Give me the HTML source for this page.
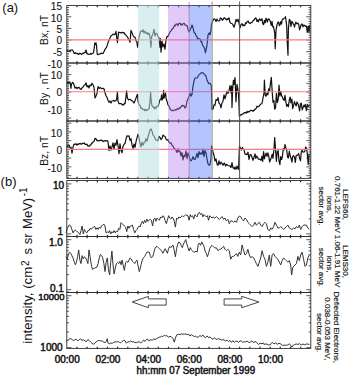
<!DOCTYPE html>
<html><head><meta charset="utf-8"><style>
html,body{margin:0;padding:0;background:#fff;width:350px;height:376px;overflow:hidden}
svg{display:block}
text{font-family:"Liberation Sans",sans-serif;fill:#111}
</style></head><body>
<svg width="350" height="376" viewBox="0 0 350 376" xmlns="http://www.w3.org/2000/svg">
<rect width="350" height="376" fill="#fff"/>
<polyline points="67.0,51.0 67.7,50.6 68.3,51.4 69.0,51.3 69.6,50.5 70.2,50.4 70.8,50.1 71.4,50.0 72.0,49.9 72.7,50.2 73.3,51.2 74.0,53.4 74.6,53.1 75.2,53.5 75.8,52.7 76.4,53.5 77.0,53.8 77.7,53.4 78.3,54.3 79.0,54.3 79.7,53.2 80.3,53.3 81.0,54.0 81.7,54.4 82.3,53.6 83.0,53.2 83.7,53.3 84.3,52.5 85.0,52.7 86.0,50.0 87.0,54.0 87.7,53.9 88.3,54.1 89.0,54.3 89.6,54.4 90.3,54.0 90.9,53.3 91.6,54.1 92.2,53.5 92.9,53.3 93.5,52.7 94.3,47.7 94.8,42.9 95.5,44.5 96.0,42.9 96.6,46.2 97.2,54.2 98.1,54.6 99.0,54.0 99.7,54.2 100.3,53.7 101.0,53.2 101.7,53.3 102.3,53.6 103.0,53.4 103.7,52.0 104.3,51.1 105.0,49.4 105.7,48.4 106.3,47.7 107.0,46.0 107.7,43.6 108.3,42.0 109.0,40.2 109.7,38.8 110.3,37.2 111.0,36.0 111.7,35.3 112.3,35.0 113.0,34.0 113.7,34.3 114.3,34.7 115.0,34.4 116.0,31.4 116.7,37.2 117.4,42.7 118.6,32.1 119.3,32.4 120.0,32.6 120.7,32.7 121.3,33.0 122.0,32.3 122.7,32.3 123.3,33.1 124.0,32.7 124.7,33.7 125.3,34.9 126.0,35.0 126.7,36.0 127.3,36.8 128.0,38.0 128.7,39.9 129.3,40.0 130.0,42.3 131.0,30.4 131.7,32.1 132.3,33.6 133.0,35.3 134.0,37.0 135.0,37.1 136.0,40.9 136.8,42.0 137.6,47.1 138.3,42.1 139.0,37.2 140.0,33.0 141.0,31.0 142.0,31.7 143.0,29.7 144.0,33.0 145.0,31.2 146.0,33.2 146.7,33.6 147.3,32.7 148.0,34.3 149.0,33.1 150.0,37.1 151.0,47.1 151.6,36.8 152.3,35.3 153.0,33.9 154.0,29.4 155.0,36.0 156.0,33.4 157.0,33.6 158.0,36.3 159.0,38.3 160.0,47.4 160.4,38.6 161.0,52.2 162.0,41.1 163.0,46.8 164.0,44.0 165.0,49.3 166.0,40.0 167.0,36.4 168.0,36.6 169.0,34.3 170.0,32.0 170.7,31.1 171.3,30.7 172.0,28.9 172.7,28.9 173.3,27.9 174.0,26.4 174.7,25.2 175.3,25.9 176.0,24.0 176.7,23.8 177.3,24.8 178.0,25.6 178.7,23.5 179.3,23.2 180.0,23.3 180.7,24.7 181.3,24.0 182.0,25.3 183.0,23.7 183.7,23.6 184.3,23.3 185.0,25.1 185.7,25.2 186.3,25.3 187.0,25.5 188.0,29.2 189.0,31.9 190.0,30.1 190.7,28.4 191.3,27.5 192.0,25.0 193.0,27.7 194.0,32.1 194.7,33.1 195.3,33.4 196.0,35.7 197.0,36.7 197.7,38.7 198.3,38.7 199.0,38.9 199.7,39.2 200.3,39.2 201.0,41.8 201.7,41.3 202.3,44.3 203.0,46.1 204.0,47.1 204.7,48.9 205.4,52.8 206.0,50.1 207.0,45.3 208.0,35.0 209.0,32.9 210.0,34.8 211.0,30.5 211.4,25.2 212.0,22.9 213.0,20.3 214.0,18.9 215.0,19.3 216.0,21.6 217.0,19.0 218.0,20.7 219.0,21.0 219.7,20.7 220.3,17.9 221.0,18.3 221.7,18.7 222.3,20.4 223.0,19.6 223.7,18.4 224.3,17.7 225.0,18.3 225.7,19.2 226.3,19.9 227.0,18.7 227.7,19.7 228.3,18.7 229.0,18.0 230.0,22.4 231.0,23.4 232.0,23.5 233.0,24.9 234.0,27.2 235.0,24.1 236.0,19.3 237.0,21.6 238.0,19.1 239.0,22.8 240.0,27.8 241.0,24.7 242.0,23.6 243.0,25.9 243.7,24.8 244.3,25.6 245.0,25.0 245.7,22.7 246.3,23.4 247.0,21.9 247.7,21.3 248.3,21.2 249.0,22.9 249.7,23.0 250.3,23.5 251.0,22.7 251.7,22.5 252.3,22.3 253.0,20.8 254.0,20.1 255.0,18.6 255.7,17.8 256.4,19.0 257.0,21.5 257.7,20.0 258.4,21.9 259.0,19.7 259.7,18.8 260.4,20.3 261.0,20.3 261.9,18.7 262.7,23.5 263.6,24.6 264.4,20.4 265.2,22.8 266.0,18.3 266.7,19.2 267.3,22.2 268.0,19.4 268.8,18.8 269.6,20.0 270.5,22.1 271.3,25.5 272.0,21.3 272.8,26.8 273.5,26.7 274.7,32.9 275.2,48.8 276.0,30.1 277.0,24.8 278.0,22.0 278.7,22.0 279.3,25.7 280.0,24.9 280.7,21.7 281.5,24.1 282.4,19.0 283.2,19.2 284.0,18.3 284.8,18.0 285.5,16.7 286.7,25.8 287.2,41.2 288.0,55.2 288.4,29.1 289.3,19.4 290.0,19.9 291.0,26.3 291.9,21.4 292.7,22.6 293.3,24.1 293.9,24.5 294.5,27.1 295.1,24.4 295.8,22.1 297.0,23.8 297.9,23.1 298.7,24.3 299.6,29.9 300.5,26.8 301.2,24.6 302.0,24.0 303.0,26.8 303.9,25.0 304.8,25.8 305.6,26.5 306.5,26.1 307.3,32.4 308.2,26.4 309.0,32.5 309.5,25.1" fill="none" stroke="#111" stroke-width="1.2" stroke-linejoin="round" />
<polyline points="67.0,82.0 68.0,83.8 69.0,82.2 70.0,82.2 71.0,88.3 71.4,84.5 72.6,82.3 73.4,83.2 74.0,84.8 75.0,88.1 76.0,87.1 77.0,88.7 77.7,87.7 78.3,87.8 79.0,87.3 79.7,88.1 80.3,89.1 81.0,89.4 81.7,88.2 82.3,87.8 83.0,87.1 83.7,85.8 84.3,85.0 85.0,85.0 86.0,82.8 87.0,86.9 88.0,85.6 89.0,88.0 90.0,85.0 91.0,85.7 92.0,83.2 93.0,84.8 94.0,87.4 95.0,98.0 96.0,95.9 97.0,93.2 98.0,86.5 99.0,88.6 100.0,87.4 101.0,88.3 101.7,88.7 102.3,88.3 103.0,88.4 104.0,88.9 105.0,92.8 106.0,95.8 107.0,97.5 108.0,100.3 109.0,102.3 110.0,101.0 111.0,103.0 112.0,101.0 113.0,100.7 113.7,100.3 114.3,101.2 115.0,100.9 115.8,100.6 116.6,99.6 117.4,92.0 118.0,101.0 119.0,103.7 119.7,103.6 120.3,103.7 121.0,103.6 121.7,104.1 122.3,104.9 123.0,104.5 123.7,105.0 124.3,103.4 125.0,103.7 126.0,96.8 126.6,90.8 127.4,98.2 128.6,100.0 129.3,99.5 130.0,99.2 131.0,100.1 132.0,100.8 133.0,101.6 134.0,103.0 135.0,100.8 136.0,98.1 137.0,95.2 137.6,94.5 138.0,101.3 139.0,104.7 140.0,105.5 141.0,108.3 142.0,108.2 142.7,109.5 143.3,109.4 144.0,109.6 144.7,110.7 145.3,109.3 146.0,110.0 146.7,110.6 147.3,109.6 148.0,109.6 149.0,108.7 150.0,101.9 150.6,92.3 151.2,101.1 152.0,105.9 152.7,106.1 153.3,107.5 154.0,107.2 154.7,108.9 155.3,107.1 156.0,108.3 156.7,106.4 157.3,106.3 158.0,106.5 159.0,103.4 160.0,99.5 161.0,99.2 161.6,94.9 162.0,100.1 163.0,98.0 163.6,90.4 164.0,98.1 165.0,94.8 165.6,93.1 166.0,98.3 167.0,101.3 168.0,104.8 169.0,106.1 170.0,109.0 170.7,109.7 171.3,110.0 172.0,110.7 172.7,110.4 173.3,110.6 174.0,110.3 174.7,110.0 175.3,109.6 176.0,110.2 176.7,109.4 177.3,108.6 178.0,109.0 178.7,109.3 179.3,107.7 180.0,108.1 180.7,107.2 181.3,106.7 182.0,105.4 183.0,105.9 184.0,105.7 185.0,108.1 186.0,106.9 187.0,101.1 188.0,99.0 189.0,96.4 190.0,93.2 191.0,96.1 192.0,94.4 193.0,86.3 194.0,81.1 195.0,78.0 196.0,78.0 197.0,77.8 197.7,77.3 198.3,75.3 199.0,75.0 199.7,74.0 200.3,73.7 201.0,73.1 202.0,72.5 202.7,72.9 203.3,73.0 204.0,73.9 204.7,75.0 205.3,75.0 206.0,76.1 207.0,79.9 208.0,82.3 208.7,83.6 209.3,83.3 210.0,83.3 211.0,84.5 211.4,86.6 212.0,109.5 213.0,109.0 214.0,104.9 215.0,105.2 216.0,99.5 217.0,100.4 218.0,97.6 219.0,103.2 220.0,104.1 221.0,107.8 222.0,103.0 223.0,101.2 224.0,94.9 225.0,98.8 226.0,95.0 227.0,91.2 228.0,93.4 229.0,90.7 230.0,85.5 231.0,93.0 231.6,85.8 232.0,107.4 232.6,90.0 233.4,80.4 234.0,84.5 235.0,77.6 236.0,101.8 237.0,84.4 238.0,90.1 238.6,95.0 239.4,116.7 240.2,114.6 241.0,115.0 241.7,114.6 242.3,114.3 243.0,113.6 243.7,113.7 244.3,112.6 245.0,112.7 245.7,112.6 246.3,113.1 247.0,111.3 247.7,112.3 248.3,111.6 249.0,112.0 249.7,111.2 250.3,110.6 251.0,110.3 251.7,110.6 252.3,110.7 253.0,111.4 253.7,110.3 254.3,110.5 255.0,109.1 255.7,109.1 256.3,107.9 257.0,106.2 257.7,106.8 258.3,106.7 259.0,106.3 259.7,105.3 260.3,104.5 261.0,104.0 262.0,103.5 263.0,98.0 264.0,93.0 264.4,80.0 265.3,95.8 266.1,96.2 267.0,93.0 267.9,94.8 268.7,88.8 269.6,90.7 270.4,83.6 271.3,77.3 272.2,91.8 273.0,102.3 273.9,100.5 274.7,109.2 275.6,107.6 276.4,93.3 277.3,102.5 278.2,99.6 279.0,85.1 279.9,96.2 280.7,91.4 281.6,95.6 282.4,97.0 283.3,99.5 284.2,100.4 285.0,95.3 285.9,102.2 286.7,106.3 287.6,104.6 288.4,106.7 289.3,99.9 290.2,97.0 291.0,102.8 291.9,99.1 292.7,108.7 293.6,105.2 294.5,101.7 295.4,104.5 296.2,105.9 297.0,101.9 297.9,103.8 298.7,105.9 299.6,110.8 300.5,103.7 301.3,103.2 302.2,109.9 303.0,107.8 303.9,105.2 304.7,106.6 305.3,104.4 305.9,108.2 306.5,110.6 307.3,104.4 308.2,106.7 308.9,105.8 309.5,104.7" fill="none" stroke="#111" stroke-width="1.2" stroke-linejoin="round" />
<polyline points="67.0,147.0 68.0,145.7 69.0,145.0 70.0,147.9 71.0,147.1 72.0,153.1 73.0,147.3 74.0,144.1 75.0,144.5 75.7,143.8 76.3,143.9 77.0,145.3 77.7,144.1 78.3,144.4 79.0,143.6 79.7,143.9 80.3,143.3 81.0,144.1 81.7,144.2 82.3,143.3 83.0,143.3 83.7,143.5 84.3,142.9 85.0,144.3 85.7,144.4 86.3,144.4 87.0,144.2 87.7,145.9 88.3,145.7 89.0,146.3 89.7,145.9 90.3,144.9 91.0,144.7 91.7,143.2 92.3,143.1 93.0,142.0 93.7,141.7 94.3,140.6 95.0,138.3 95.7,138.8 96.3,139.3 97.0,140.8 97.7,140.3 98.3,140.8 99.0,140.8 99.7,140.7 100.3,140.2 101.0,139.9 101.7,140.4 102.3,140.7 103.0,141.7 103.7,140.9 104.3,141.0 105.0,140.5 105.7,141.2 106.3,140.8 107.0,140.5 108.0,141.7 109.0,150.5 110.0,146.0 111.0,150.1 112.0,146.8 113.0,142.8 114.0,149.5 115.0,143.2 116.0,145.2 117.0,139.7 118.0,145.7 119.0,153.7 120.0,143.9 121.0,150.3 122.0,152.8 123.0,146.4 124.0,144.3 125.0,143.6 126.0,138.9 127.0,135.8 128.0,136.2 129.0,135.8 130.0,140.4 131.0,138.7 132.0,144.9 133.0,148.3 134.0,144.0 135.0,147.4 136.0,141.7 137.0,137.9 138.0,134.1 139.0,137.7 140.0,143.3 141.0,146.9 142.0,142.1 143.0,145.2 144.0,142.8 145.0,141.9 146.0,138.7 147.0,141.2 148.0,137.0 149.0,133.8 150.0,130.0 151.0,129.0 152.0,131.2 153.0,135.1 154.0,136.1 155.0,138.2 156.0,140.2 157.0,140.0 158.0,140.9 159.0,136.4 160.0,137.5 161.0,139.6 162.0,138.3 163.0,135.0 164.0,136.0 165.0,136.6 166.0,138.9 167.0,140.1 168.0,139.7 169.0,142.2 170.0,143.2 171.0,142.8 172.0,145.2 173.0,146.0 174.0,148.3 175.0,148.8 176.0,150.4 177.0,152.5 178.0,148.7 179.0,151.8 180.0,151.3 181.0,156.2 182.0,152.5 183.0,160.0 184.0,155.1 185.0,156.7 186.0,150.8 187.0,158.7 188.0,152.8 189.0,156.1 190.0,159.6 191.0,160.8 192.0,159.6 193.0,156.7 194.0,159.1 195.0,159.5 196.0,156.7 197.0,153.4 198.0,157.7 199.0,151.5 200.0,154.3 201.0,152.9 202.0,154.3 203.0,149.0 204.0,156.7 205.0,150.7 206.0,152.8 207.0,158.9 208.0,163.8 209.0,165.2 210.0,164.7 211.0,159.2 211.6,145.9 212.4,149.9 213.0,152.0 214.0,155.4 215.0,161.0 216.0,158.8 217.0,164.2 218.0,165.3 219.0,160.8 220.0,164.3 221.0,162.2 222.0,163.4 223.0,165.2 223.7,163.9 224.3,163.1 225.0,164.4 225.7,166.1 226.3,164.3 227.0,164.6 227.7,165.2 228.3,165.5 229.0,165.8 230.0,165.9 231.0,167.6 232.0,162.6 233.0,168.0 233.7,167.9 234.3,169.0 235.0,166.9 235.7,169.1 236.3,168.9 237.0,166.0 237.8,168.3 238.6,169.3 239.4,146.4 240.6,148.0 241.4,150.1 242.4,147.4 243.0,148.7 244.0,149.4 245.0,154.2 246.0,154.1 247.0,154.6 248.0,152.2 249.0,159.3 250.0,154.8 251.0,154.5 252.0,157.3 253.0,160.3 254.0,157.2 255.0,153.8 255.8,158.4 256.7,156.0 257.5,157.3 258.4,159.2 259.2,159.1 260.1,159.3 261.0,160.3 261.9,156.3 262.7,161.4 263.6,151.5 264.4,158.9 265.3,155.2 266.1,153.1 267.0,156.4 267.9,152.8 268.7,156.1 269.6,161.9 270.4,160.3 271.3,157.4 272.2,154.2 273.0,158.4 273.9,150.0 274.7,137.5 275.6,150.4 276.4,161.5 277.3,151.6 278.2,150.7 279.0,161.0 279.9,164.6 280.7,156.7 281.6,159.5 282.4,156.5 283.3,148.5 284.2,149.9 285.0,144.5 285.9,147.9 286.7,150.0 287.6,157.3 288.4,157.9 289.3,151.0 290.2,156.0 291.0,157.9 291.9,162.2 292.7,156.4 293.6,155.7 294.5,157.1 295.3,162.4 296.2,155.3 297.0,155.4 297.9,154.8 298.7,153.5 299.6,158.6 300.5,160.8 301.3,151.8 302.2,150.1 303.0,152.2 303.9,152.0 304.7,151.4 305.6,147.0 306.5,148.1 307.3,153.8 308.2,164.4 309.0,153.9" fill="none" stroke="#111" stroke-width="1.2" stroke-linejoin="round" />
<line x1="66.80" y1="60.88" x2="69.00" y2="60.88" stroke="#2c2c2c" stroke-width="0.8" />
<line x1="310.80" y1="60.88" x2="308.60" y2="60.88" stroke="#2c2c2c" stroke-width="0.8" />
<line x1="66.80" y1="58.56" x2="69.00" y2="58.56" stroke="#2c2c2c" stroke-width="0.8" />
<line x1="310.80" y1="58.56" x2="308.60" y2="58.56" stroke="#2c2c2c" stroke-width="0.8" />
<line x1="66.80" y1="56.24" x2="69.00" y2="56.24" stroke="#2c2c2c" stroke-width="0.8" />
<line x1="310.80" y1="56.24" x2="308.60" y2="56.24" stroke="#2c2c2c" stroke-width="0.8" />
<line x1="66.80" y1="53.92" x2="69.00" y2="53.92" stroke="#2c2c2c" stroke-width="0.8" />
<line x1="310.80" y1="53.92" x2="308.60" y2="53.92" stroke="#2c2c2c" stroke-width="0.8" />
<line x1="66.80" y1="51.60" x2="71.30" y2="51.60" stroke="#2c2c2c" stroke-width="0.8" />
<line x1="310.80" y1="51.60" x2="306.30" y2="51.60" stroke="#2c2c2c" stroke-width="0.8" />
<line x1="66.80" y1="49.28" x2="69.00" y2="49.28" stroke="#2c2c2c" stroke-width="0.8" />
<line x1="310.80" y1="49.28" x2="308.60" y2="49.28" stroke="#2c2c2c" stroke-width="0.8" />
<line x1="66.80" y1="46.96" x2="69.00" y2="46.96" stroke="#2c2c2c" stroke-width="0.8" />
<line x1="310.80" y1="46.96" x2="308.60" y2="46.96" stroke="#2c2c2c" stroke-width="0.8" />
<line x1="66.80" y1="44.64" x2="69.00" y2="44.64" stroke="#2c2c2c" stroke-width="0.8" />
<line x1="310.80" y1="44.64" x2="308.60" y2="44.64" stroke="#2c2c2c" stroke-width="0.8" />
<line x1="66.80" y1="42.32" x2="69.00" y2="42.32" stroke="#2c2c2c" stroke-width="0.8" />
<line x1="310.80" y1="42.32" x2="308.60" y2="42.32" stroke="#2c2c2c" stroke-width="0.8" />
<line x1="66.80" y1="40.00" x2="71.30" y2="40.00" stroke="#2c2c2c" stroke-width="0.8" />
<line x1="310.80" y1="40.00" x2="306.30" y2="40.00" stroke="#2c2c2c" stroke-width="0.8" />
<line x1="66.80" y1="37.68" x2="69.00" y2="37.68" stroke="#2c2c2c" stroke-width="0.8" />
<line x1="310.80" y1="37.68" x2="308.60" y2="37.68" stroke="#2c2c2c" stroke-width="0.8" />
<line x1="66.80" y1="35.36" x2="69.00" y2="35.36" stroke="#2c2c2c" stroke-width="0.8" />
<line x1="310.80" y1="35.36" x2="308.60" y2="35.36" stroke="#2c2c2c" stroke-width="0.8" />
<line x1="66.80" y1="33.04" x2="69.00" y2="33.04" stroke="#2c2c2c" stroke-width="0.8" />
<line x1="310.80" y1="33.04" x2="308.60" y2="33.04" stroke="#2c2c2c" stroke-width="0.8" />
<line x1="66.80" y1="30.72" x2="69.00" y2="30.72" stroke="#2c2c2c" stroke-width="0.8" />
<line x1="310.80" y1="30.72" x2="308.60" y2="30.72" stroke="#2c2c2c" stroke-width="0.8" />
<line x1="66.80" y1="28.40" x2="71.30" y2="28.40" stroke="#2c2c2c" stroke-width="0.8" />
<line x1="310.80" y1="28.40" x2="306.30" y2="28.40" stroke="#2c2c2c" stroke-width="0.8" />
<line x1="66.80" y1="26.08" x2="69.00" y2="26.08" stroke="#2c2c2c" stroke-width="0.8" />
<line x1="310.80" y1="26.08" x2="308.60" y2="26.08" stroke="#2c2c2c" stroke-width="0.8" />
<line x1="66.80" y1="23.76" x2="69.00" y2="23.76" stroke="#2c2c2c" stroke-width="0.8" />
<line x1="310.80" y1="23.76" x2="308.60" y2="23.76" stroke="#2c2c2c" stroke-width="0.8" />
<line x1="66.80" y1="21.44" x2="69.00" y2="21.44" stroke="#2c2c2c" stroke-width="0.8" />
<line x1="310.80" y1="21.44" x2="308.60" y2="21.44" stroke="#2c2c2c" stroke-width="0.8" />
<line x1="66.80" y1="19.12" x2="69.00" y2="19.12" stroke="#2c2c2c" stroke-width="0.8" />
<line x1="310.80" y1="19.12" x2="308.60" y2="19.12" stroke="#2c2c2c" stroke-width="0.8" />
<line x1="66.80" y1="16.80" x2="71.30" y2="16.80" stroke="#2c2c2c" stroke-width="0.8" />
<line x1="310.80" y1="16.80" x2="306.30" y2="16.80" stroke="#2c2c2c" stroke-width="0.8" />
<line x1="66.80" y1="14.48" x2="69.00" y2="14.48" stroke="#2c2c2c" stroke-width="0.8" />
<line x1="310.80" y1="14.48" x2="308.60" y2="14.48" stroke="#2c2c2c" stroke-width="0.8" />
<line x1="66.80" y1="12.16" x2="69.00" y2="12.16" stroke="#2c2c2c" stroke-width="0.8" />
<line x1="310.80" y1="12.16" x2="308.60" y2="12.16" stroke="#2c2c2c" stroke-width="0.8" />
<line x1="66.80" y1="9.84" x2="69.00" y2="9.84" stroke="#2c2c2c" stroke-width="0.8" />
<line x1="310.80" y1="9.84" x2="308.60" y2="9.84" stroke="#2c2c2c" stroke-width="0.8" />
<line x1="66.80" y1="7.52" x2="69.00" y2="7.52" stroke="#2c2c2c" stroke-width="0.8" />
<line x1="310.80" y1="7.52" x2="308.60" y2="7.52" stroke="#2c2c2c" stroke-width="0.8" />
<line x1="66.80" y1="119.84" x2="69.00" y2="119.84" stroke="#2c2c2c" stroke-width="0.8" />
<line x1="310.80" y1="119.84" x2="308.60" y2="119.84" stroke="#2c2c2c" stroke-width="0.8" />
<line x1="66.80" y1="118.10" x2="71.30" y2="118.10" stroke="#2c2c2c" stroke-width="0.8" />
<line x1="310.80" y1="118.10" x2="306.30" y2="118.10" stroke="#2c2c2c" stroke-width="0.8" />
<line x1="66.80" y1="116.36" x2="69.00" y2="116.36" stroke="#2c2c2c" stroke-width="0.8" />
<line x1="310.80" y1="116.36" x2="308.60" y2="116.36" stroke="#2c2c2c" stroke-width="0.8" />
<line x1="66.80" y1="114.62" x2="69.00" y2="114.62" stroke="#2c2c2c" stroke-width="0.8" />
<line x1="310.80" y1="114.62" x2="308.60" y2="114.62" stroke="#2c2c2c" stroke-width="0.8" />
<line x1="66.80" y1="112.88" x2="69.00" y2="112.88" stroke="#2c2c2c" stroke-width="0.8" />
<line x1="310.80" y1="112.88" x2="308.60" y2="112.88" stroke="#2c2c2c" stroke-width="0.8" />
<line x1="66.80" y1="111.14" x2="69.00" y2="111.14" stroke="#2c2c2c" stroke-width="0.8" />
<line x1="310.80" y1="111.14" x2="308.60" y2="111.14" stroke="#2c2c2c" stroke-width="0.8" />
<line x1="66.80" y1="109.40" x2="71.30" y2="109.40" stroke="#2c2c2c" stroke-width="0.8" />
<line x1="310.80" y1="109.40" x2="306.30" y2="109.40" stroke="#2c2c2c" stroke-width="0.8" />
<line x1="66.80" y1="107.66" x2="69.00" y2="107.66" stroke="#2c2c2c" stroke-width="0.8" />
<line x1="310.80" y1="107.66" x2="308.60" y2="107.66" stroke="#2c2c2c" stroke-width="0.8" />
<line x1="66.80" y1="105.92" x2="69.00" y2="105.92" stroke="#2c2c2c" stroke-width="0.8" />
<line x1="310.80" y1="105.92" x2="308.60" y2="105.92" stroke="#2c2c2c" stroke-width="0.8" />
<line x1="66.80" y1="104.18" x2="69.00" y2="104.18" stroke="#2c2c2c" stroke-width="0.8" />
<line x1="310.80" y1="104.18" x2="308.60" y2="104.18" stroke="#2c2c2c" stroke-width="0.8" />
<line x1="66.80" y1="102.44" x2="69.00" y2="102.44" stroke="#2c2c2c" stroke-width="0.8" />
<line x1="310.80" y1="102.44" x2="308.60" y2="102.44" stroke="#2c2c2c" stroke-width="0.8" />
<line x1="66.80" y1="100.70" x2="71.30" y2="100.70" stroke="#2c2c2c" stroke-width="0.8" />
<line x1="310.80" y1="100.70" x2="306.30" y2="100.70" stroke="#2c2c2c" stroke-width="0.8" />
<line x1="66.80" y1="98.96" x2="69.00" y2="98.96" stroke="#2c2c2c" stroke-width="0.8" />
<line x1="310.80" y1="98.96" x2="308.60" y2="98.96" stroke="#2c2c2c" stroke-width="0.8" />
<line x1="66.80" y1="97.22" x2="69.00" y2="97.22" stroke="#2c2c2c" stroke-width="0.8" />
<line x1="310.80" y1="97.22" x2="308.60" y2="97.22" stroke="#2c2c2c" stroke-width="0.8" />
<line x1="66.80" y1="95.48" x2="69.00" y2="95.48" stroke="#2c2c2c" stroke-width="0.8" />
<line x1="310.80" y1="95.48" x2="308.60" y2="95.48" stroke="#2c2c2c" stroke-width="0.8" />
<line x1="66.80" y1="93.74" x2="69.00" y2="93.74" stroke="#2c2c2c" stroke-width="0.8" />
<line x1="310.80" y1="93.74" x2="308.60" y2="93.74" stroke="#2c2c2c" stroke-width="0.8" />
<line x1="66.80" y1="92.00" x2="71.30" y2="92.00" stroke="#2c2c2c" stroke-width="0.8" />
<line x1="310.80" y1="92.00" x2="306.30" y2="92.00" stroke="#2c2c2c" stroke-width="0.8" />
<line x1="66.80" y1="90.26" x2="69.00" y2="90.26" stroke="#2c2c2c" stroke-width="0.8" />
<line x1="310.80" y1="90.26" x2="308.60" y2="90.26" stroke="#2c2c2c" stroke-width="0.8" />
<line x1="66.80" y1="88.52" x2="69.00" y2="88.52" stroke="#2c2c2c" stroke-width="0.8" />
<line x1="310.80" y1="88.52" x2="308.60" y2="88.52" stroke="#2c2c2c" stroke-width="0.8" />
<line x1="66.80" y1="86.78" x2="69.00" y2="86.78" stroke="#2c2c2c" stroke-width="0.8" />
<line x1="310.80" y1="86.78" x2="308.60" y2="86.78" stroke="#2c2c2c" stroke-width="0.8" />
<line x1="66.80" y1="85.04" x2="69.00" y2="85.04" stroke="#2c2c2c" stroke-width="0.8" />
<line x1="310.80" y1="85.04" x2="308.60" y2="85.04" stroke="#2c2c2c" stroke-width="0.8" />
<line x1="66.80" y1="83.30" x2="71.30" y2="83.30" stroke="#2c2c2c" stroke-width="0.8" />
<line x1="310.80" y1="83.30" x2="306.30" y2="83.30" stroke="#2c2c2c" stroke-width="0.8" />
<line x1="66.80" y1="81.56" x2="69.00" y2="81.56" stroke="#2c2c2c" stroke-width="0.8" />
<line x1="310.80" y1="81.56" x2="308.60" y2="81.56" stroke="#2c2c2c" stroke-width="0.8" />
<line x1="66.80" y1="79.82" x2="69.00" y2="79.82" stroke="#2c2c2c" stroke-width="0.8" />
<line x1="310.80" y1="79.82" x2="308.60" y2="79.82" stroke="#2c2c2c" stroke-width="0.8" />
<line x1="66.80" y1="78.08" x2="69.00" y2="78.08" stroke="#2c2c2c" stroke-width="0.8" />
<line x1="310.80" y1="78.08" x2="308.60" y2="78.08" stroke="#2c2c2c" stroke-width="0.8" />
<line x1="66.80" y1="76.34" x2="69.00" y2="76.34" stroke="#2c2c2c" stroke-width="0.8" />
<line x1="310.80" y1="76.34" x2="308.60" y2="76.34" stroke="#2c2c2c" stroke-width="0.8" />
<line x1="66.80" y1="74.60" x2="71.30" y2="74.60" stroke="#2c2c2c" stroke-width="0.8" />
<line x1="310.80" y1="74.60" x2="306.30" y2="74.60" stroke="#2c2c2c" stroke-width="0.8" />
<line x1="66.80" y1="72.86" x2="69.00" y2="72.86" stroke="#2c2c2c" stroke-width="0.8" />
<line x1="310.80" y1="72.86" x2="308.60" y2="72.86" stroke="#2c2c2c" stroke-width="0.8" />
<line x1="66.80" y1="71.12" x2="69.00" y2="71.12" stroke="#2c2c2c" stroke-width="0.8" />
<line x1="310.80" y1="71.12" x2="308.60" y2="71.12" stroke="#2c2c2c" stroke-width="0.8" />
<line x1="66.80" y1="69.38" x2="69.00" y2="69.38" stroke="#2c2c2c" stroke-width="0.8" />
<line x1="310.80" y1="69.38" x2="308.60" y2="69.38" stroke="#2c2c2c" stroke-width="0.8" />
<line x1="66.80" y1="67.64" x2="69.00" y2="67.64" stroke="#2c2c2c" stroke-width="0.8" />
<line x1="310.80" y1="67.64" x2="308.60" y2="67.64" stroke="#2c2c2c" stroke-width="0.8" />
<line x1="66.80" y1="65.90" x2="71.30" y2="65.90" stroke="#2c2c2c" stroke-width="0.8" />
<line x1="310.80" y1="65.90" x2="306.30" y2="65.90" stroke="#2c2c2c" stroke-width="0.8" />
<line x1="66.80" y1="64.16" x2="69.00" y2="64.16" stroke="#2c2c2c" stroke-width="0.8" />
<line x1="310.80" y1="64.16" x2="308.60" y2="64.16" stroke="#2c2c2c" stroke-width="0.8" />
<line x1="66.80" y1="177.40" x2="69.00" y2="177.40" stroke="#2c2c2c" stroke-width="0.8" />
<line x1="310.80" y1="177.40" x2="308.60" y2="177.40" stroke="#2c2c2c" stroke-width="0.8" />
<line x1="66.80" y1="175.65" x2="71.30" y2="175.65" stroke="#2c2c2c" stroke-width="0.8" />
<line x1="310.80" y1="175.65" x2="306.30" y2="175.65" stroke="#2c2c2c" stroke-width="0.8" />
<line x1="66.80" y1="173.90" x2="69.00" y2="173.90" stroke="#2c2c2c" stroke-width="0.8" />
<line x1="310.80" y1="173.90" x2="308.60" y2="173.90" stroke="#2c2c2c" stroke-width="0.8" />
<line x1="66.80" y1="172.15" x2="69.00" y2="172.15" stroke="#2c2c2c" stroke-width="0.8" />
<line x1="310.80" y1="172.15" x2="308.60" y2="172.15" stroke="#2c2c2c" stroke-width="0.8" />
<line x1="66.80" y1="170.40" x2="69.00" y2="170.40" stroke="#2c2c2c" stroke-width="0.8" />
<line x1="310.80" y1="170.40" x2="308.60" y2="170.40" stroke="#2c2c2c" stroke-width="0.8" />
<line x1="66.80" y1="168.65" x2="69.00" y2="168.65" stroke="#2c2c2c" stroke-width="0.8" />
<line x1="310.80" y1="168.65" x2="308.60" y2="168.65" stroke="#2c2c2c" stroke-width="0.8" />
<line x1="66.80" y1="166.90" x2="71.30" y2="166.90" stroke="#2c2c2c" stroke-width="0.8" />
<line x1="310.80" y1="166.90" x2="306.30" y2="166.90" stroke="#2c2c2c" stroke-width="0.8" />
<line x1="66.80" y1="165.15" x2="69.00" y2="165.15" stroke="#2c2c2c" stroke-width="0.8" />
<line x1="310.80" y1="165.15" x2="308.60" y2="165.15" stroke="#2c2c2c" stroke-width="0.8" />
<line x1="66.80" y1="163.40" x2="69.00" y2="163.40" stroke="#2c2c2c" stroke-width="0.8" />
<line x1="310.80" y1="163.40" x2="308.60" y2="163.40" stroke="#2c2c2c" stroke-width="0.8" />
<line x1="66.80" y1="161.65" x2="69.00" y2="161.65" stroke="#2c2c2c" stroke-width="0.8" />
<line x1="310.80" y1="161.65" x2="308.60" y2="161.65" stroke="#2c2c2c" stroke-width="0.8" />
<line x1="66.80" y1="159.90" x2="69.00" y2="159.90" stroke="#2c2c2c" stroke-width="0.8" />
<line x1="310.80" y1="159.90" x2="308.60" y2="159.90" stroke="#2c2c2c" stroke-width="0.8" />
<line x1="66.80" y1="158.15" x2="71.30" y2="158.15" stroke="#2c2c2c" stroke-width="0.8" />
<line x1="310.80" y1="158.15" x2="306.30" y2="158.15" stroke="#2c2c2c" stroke-width="0.8" />
<line x1="66.80" y1="156.40" x2="69.00" y2="156.40" stroke="#2c2c2c" stroke-width="0.8" />
<line x1="310.80" y1="156.40" x2="308.60" y2="156.40" stroke="#2c2c2c" stroke-width="0.8" />
<line x1="66.80" y1="154.65" x2="69.00" y2="154.65" stroke="#2c2c2c" stroke-width="0.8" />
<line x1="310.80" y1="154.65" x2="308.60" y2="154.65" stroke="#2c2c2c" stroke-width="0.8" />
<line x1="66.80" y1="152.90" x2="69.00" y2="152.90" stroke="#2c2c2c" stroke-width="0.8" />
<line x1="310.80" y1="152.90" x2="308.60" y2="152.90" stroke="#2c2c2c" stroke-width="0.8" />
<line x1="66.80" y1="151.15" x2="69.00" y2="151.15" stroke="#2c2c2c" stroke-width="0.8" />
<line x1="310.80" y1="151.15" x2="308.60" y2="151.15" stroke="#2c2c2c" stroke-width="0.8" />
<line x1="66.80" y1="149.40" x2="71.30" y2="149.40" stroke="#2c2c2c" stroke-width="0.8" />
<line x1="310.80" y1="149.40" x2="306.30" y2="149.40" stroke="#2c2c2c" stroke-width="0.8" />
<line x1="66.80" y1="147.65" x2="69.00" y2="147.65" stroke="#2c2c2c" stroke-width="0.8" />
<line x1="310.80" y1="147.65" x2="308.60" y2="147.65" stroke="#2c2c2c" stroke-width="0.8" />
<line x1="66.80" y1="145.90" x2="69.00" y2="145.90" stroke="#2c2c2c" stroke-width="0.8" />
<line x1="310.80" y1="145.90" x2="308.60" y2="145.90" stroke="#2c2c2c" stroke-width="0.8" />
<line x1="66.80" y1="144.15" x2="69.00" y2="144.15" stroke="#2c2c2c" stroke-width="0.8" />
<line x1="310.80" y1="144.15" x2="308.60" y2="144.15" stroke="#2c2c2c" stroke-width="0.8" />
<line x1="66.80" y1="142.40" x2="69.00" y2="142.40" stroke="#2c2c2c" stroke-width="0.8" />
<line x1="310.80" y1="142.40" x2="308.60" y2="142.40" stroke="#2c2c2c" stroke-width="0.8" />
<line x1="66.80" y1="140.65" x2="71.30" y2="140.65" stroke="#2c2c2c" stroke-width="0.8" />
<line x1="310.80" y1="140.65" x2="306.30" y2="140.65" stroke="#2c2c2c" stroke-width="0.8" />
<line x1="66.80" y1="138.90" x2="69.00" y2="138.90" stroke="#2c2c2c" stroke-width="0.8" />
<line x1="310.80" y1="138.90" x2="308.60" y2="138.90" stroke="#2c2c2c" stroke-width="0.8" />
<line x1="66.80" y1="137.15" x2="69.00" y2="137.15" stroke="#2c2c2c" stroke-width="0.8" />
<line x1="310.80" y1="137.15" x2="308.60" y2="137.15" stroke="#2c2c2c" stroke-width="0.8" />
<line x1="66.80" y1="135.40" x2="69.00" y2="135.40" stroke="#2c2c2c" stroke-width="0.8" />
<line x1="310.80" y1="135.40" x2="308.60" y2="135.40" stroke="#2c2c2c" stroke-width="0.8" />
<line x1="66.80" y1="133.65" x2="69.00" y2="133.65" stroke="#2c2c2c" stroke-width="0.8" />
<line x1="310.80" y1="133.65" x2="308.60" y2="133.65" stroke="#2c2c2c" stroke-width="0.8" />
<line x1="66.80" y1="131.90" x2="71.30" y2="131.90" stroke="#2c2c2c" stroke-width="0.8" />
<line x1="310.80" y1="131.90" x2="306.30" y2="131.90" stroke="#2c2c2c" stroke-width="0.8" />
<line x1="66.80" y1="130.15" x2="69.00" y2="130.15" stroke="#2c2c2c" stroke-width="0.8" />
<line x1="310.80" y1="130.15" x2="308.60" y2="130.15" stroke="#2c2c2c" stroke-width="0.8" />
<line x1="66.80" y1="128.40" x2="69.00" y2="128.40" stroke="#2c2c2c" stroke-width="0.8" />
<line x1="310.80" y1="128.40" x2="308.60" y2="128.40" stroke="#2c2c2c" stroke-width="0.8" />
<line x1="66.80" y1="126.65" x2="69.00" y2="126.65" stroke="#2c2c2c" stroke-width="0.8" />
<line x1="310.80" y1="126.65" x2="308.60" y2="126.65" stroke="#2c2c2c" stroke-width="0.8" />
<line x1="66.80" y1="124.90" x2="69.00" y2="124.90" stroke="#2c2c2c" stroke-width="0.8" />
<line x1="310.80" y1="124.90" x2="308.60" y2="124.90" stroke="#2c2c2c" stroke-width="0.8" />
<line x1="66.80" y1="123.15" x2="71.30" y2="123.15" stroke="#2c2c2c" stroke-width="0.8" />
<line x1="310.80" y1="123.15" x2="306.30" y2="123.15" stroke="#2c2c2c" stroke-width="0.8" />
<line x1="66.80" y1="121.40" x2="69.00" y2="121.40" stroke="#2c2c2c" stroke-width="0.8" />
<line x1="310.80" y1="121.40" x2="308.60" y2="121.40" stroke="#2c2c2c" stroke-width="0.8" />
<line x1="67.40" y1="39.90" x2="310.80" y2="39.90" stroke="#ff7882" stroke-width="1.15" />
<line x1="67.40" y1="91.70" x2="310.80" y2="91.70" stroke="#ff7882" stroke-width="1.15" />
<line x1="67.40" y1="149.40" x2="310.80" y2="149.40" stroke="#ff7882" stroke-width="1.15" />
<line x1="76.97" y1="5.50" x2="76.97" y2="7.20" stroke="#2c2c2c" stroke-width="1.2" />
<line x1="76.97" y1="63.00" x2="76.97" y2="61.30" stroke="#2c2c2c" stroke-width="1.2" />
<line x1="87.13" y1="5.50" x2="87.13" y2="7.20" stroke="#2c2c2c" stroke-width="1.2" />
<line x1="87.13" y1="63.00" x2="87.13" y2="61.30" stroke="#2c2c2c" stroke-width="1.2" />
<line x1="97.30" y1="5.50" x2="97.30" y2="7.20" stroke="#2c2c2c" stroke-width="1.2" />
<line x1="97.30" y1="63.00" x2="97.30" y2="61.30" stroke="#2c2c2c" stroke-width="1.2" />
<line x1="107.47" y1="5.50" x2="107.47" y2="7.20" stroke="#2c2c2c" stroke-width="1.2" />
<line x1="107.47" y1="63.00" x2="107.47" y2="61.30" stroke="#2c2c2c" stroke-width="1.2" />
<line x1="117.63" y1="5.50" x2="117.63" y2="7.20" stroke="#2c2c2c" stroke-width="1.2" />
<line x1="117.63" y1="63.00" x2="117.63" y2="61.30" stroke="#2c2c2c" stroke-width="1.2" />
<line x1="127.80" y1="5.50" x2="127.80" y2="7.20" stroke="#2c2c2c" stroke-width="1.2" />
<line x1="127.80" y1="63.00" x2="127.80" y2="61.30" stroke="#2c2c2c" stroke-width="1.2" />
<line x1="137.97" y1="5.50" x2="137.97" y2="7.20" stroke="#2c2c2c" stroke-width="1.2" />
<line x1="137.97" y1="63.00" x2="137.97" y2="61.30" stroke="#2c2c2c" stroke-width="1.2" />
<line x1="148.13" y1="5.50" x2="148.13" y2="7.20" stroke="#2c2c2c" stroke-width="1.2" />
<line x1="148.13" y1="63.00" x2="148.13" y2="61.30" stroke="#2c2c2c" stroke-width="1.2" />
<line x1="158.30" y1="5.50" x2="158.30" y2="7.20" stroke="#2c2c2c" stroke-width="1.2" />
<line x1="158.30" y1="63.00" x2="158.30" y2="61.30" stroke="#2c2c2c" stroke-width="1.2" />
<line x1="168.47" y1="5.50" x2="168.47" y2="7.20" stroke="#2c2c2c" stroke-width="1.2" />
<line x1="168.47" y1="63.00" x2="168.47" y2="61.30" stroke="#2c2c2c" stroke-width="1.2" />
<line x1="178.63" y1="5.50" x2="178.63" y2="7.20" stroke="#2c2c2c" stroke-width="1.2" />
<line x1="178.63" y1="63.00" x2="178.63" y2="61.30" stroke="#2c2c2c" stroke-width="1.2" />
<line x1="188.80" y1="5.50" x2="188.80" y2="7.20" stroke="#2c2c2c" stroke-width="1.2" />
<line x1="188.80" y1="63.00" x2="188.80" y2="61.30" stroke="#2c2c2c" stroke-width="1.2" />
<line x1="198.97" y1="5.50" x2="198.97" y2="7.20" stroke="#2c2c2c" stroke-width="1.2" />
<line x1="198.97" y1="63.00" x2="198.97" y2="61.30" stroke="#2c2c2c" stroke-width="1.2" />
<line x1="209.13" y1="5.50" x2="209.13" y2="7.20" stroke="#2c2c2c" stroke-width="1.2" />
<line x1="209.13" y1="63.00" x2="209.13" y2="61.30" stroke="#2c2c2c" stroke-width="1.2" />
<line x1="219.30" y1="5.50" x2="219.30" y2="7.20" stroke="#2c2c2c" stroke-width="1.2" />
<line x1="219.30" y1="63.00" x2="219.30" y2="61.30" stroke="#2c2c2c" stroke-width="1.2" />
<line x1="229.47" y1="5.50" x2="229.47" y2="7.20" stroke="#2c2c2c" stroke-width="1.2" />
<line x1="229.47" y1="63.00" x2="229.47" y2="61.30" stroke="#2c2c2c" stroke-width="1.2" />
<line x1="239.63" y1="5.50" x2="239.63" y2="7.20" stroke="#2c2c2c" stroke-width="1.2" />
<line x1="239.63" y1="63.00" x2="239.63" y2="61.30" stroke="#2c2c2c" stroke-width="1.2" />
<line x1="249.80" y1="5.50" x2="249.80" y2="7.20" stroke="#2c2c2c" stroke-width="1.2" />
<line x1="249.80" y1="63.00" x2="249.80" y2="61.30" stroke="#2c2c2c" stroke-width="1.2" />
<line x1="259.97" y1="5.50" x2="259.97" y2="7.20" stroke="#2c2c2c" stroke-width="1.2" />
<line x1="259.97" y1="63.00" x2="259.97" y2="61.30" stroke="#2c2c2c" stroke-width="1.2" />
<line x1="270.13" y1="5.50" x2="270.13" y2="7.20" stroke="#2c2c2c" stroke-width="1.2" />
<line x1="270.13" y1="63.00" x2="270.13" y2="61.30" stroke="#2c2c2c" stroke-width="1.2" />
<line x1="280.30" y1="5.50" x2="280.30" y2="7.20" stroke="#2c2c2c" stroke-width="1.2" />
<line x1="280.30" y1="63.00" x2="280.30" y2="61.30" stroke="#2c2c2c" stroke-width="1.2" />
<line x1="290.47" y1="5.50" x2="290.47" y2="7.20" stroke="#2c2c2c" stroke-width="1.2" />
<line x1="290.47" y1="63.00" x2="290.47" y2="61.30" stroke="#2c2c2c" stroke-width="1.2" />
<line x1="300.63" y1="5.50" x2="300.63" y2="7.20" stroke="#2c2c2c" stroke-width="1.2" />
<line x1="300.63" y1="63.00" x2="300.63" y2="61.30" stroke="#2c2c2c" stroke-width="1.2" />
<line x1="76.97" y1="63.00" x2="76.97" y2="64.70" stroke="#2c2c2c" stroke-width="1.2" />
<line x1="76.97" y1="121.00" x2="76.97" y2="119.30" stroke="#2c2c2c" stroke-width="1.2" />
<line x1="87.13" y1="63.00" x2="87.13" y2="64.70" stroke="#2c2c2c" stroke-width="1.2" />
<line x1="87.13" y1="121.00" x2="87.13" y2="119.30" stroke="#2c2c2c" stroke-width="1.2" />
<line x1="97.30" y1="63.00" x2="97.30" y2="64.70" stroke="#2c2c2c" stroke-width="1.2" />
<line x1="97.30" y1="121.00" x2="97.30" y2="119.30" stroke="#2c2c2c" stroke-width="1.2" />
<line x1="107.47" y1="63.00" x2="107.47" y2="64.70" stroke="#2c2c2c" stroke-width="1.2" />
<line x1="107.47" y1="121.00" x2="107.47" y2="119.30" stroke="#2c2c2c" stroke-width="1.2" />
<line x1="117.63" y1="63.00" x2="117.63" y2="64.70" stroke="#2c2c2c" stroke-width="1.2" />
<line x1="117.63" y1="121.00" x2="117.63" y2="119.30" stroke="#2c2c2c" stroke-width="1.2" />
<line x1="127.80" y1="63.00" x2="127.80" y2="64.70" stroke="#2c2c2c" stroke-width="1.2" />
<line x1="127.80" y1="121.00" x2="127.80" y2="119.30" stroke="#2c2c2c" stroke-width="1.2" />
<line x1="137.97" y1="63.00" x2="137.97" y2="64.70" stroke="#2c2c2c" stroke-width="1.2" />
<line x1="137.97" y1="121.00" x2="137.97" y2="119.30" stroke="#2c2c2c" stroke-width="1.2" />
<line x1="148.13" y1="63.00" x2="148.13" y2="64.70" stroke="#2c2c2c" stroke-width="1.2" />
<line x1="148.13" y1="121.00" x2="148.13" y2="119.30" stroke="#2c2c2c" stroke-width="1.2" />
<line x1="158.30" y1="63.00" x2="158.30" y2="64.70" stroke="#2c2c2c" stroke-width="1.2" />
<line x1="158.30" y1="121.00" x2="158.30" y2="119.30" stroke="#2c2c2c" stroke-width="1.2" />
<line x1="168.47" y1="63.00" x2="168.47" y2="64.70" stroke="#2c2c2c" stroke-width="1.2" />
<line x1="168.47" y1="121.00" x2="168.47" y2="119.30" stroke="#2c2c2c" stroke-width="1.2" />
<line x1="178.63" y1="63.00" x2="178.63" y2="64.70" stroke="#2c2c2c" stroke-width="1.2" />
<line x1="178.63" y1="121.00" x2="178.63" y2="119.30" stroke="#2c2c2c" stroke-width="1.2" />
<line x1="188.80" y1="63.00" x2="188.80" y2="64.70" stroke="#2c2c2c" stroke-width="1.2" />
<line x1="188.80" y1="121.00" x2="188.80" y2="119.30" stroke="#2c2c2c" stroke-width="1.2" />
<line x1="198.97" y1="63.00" x2="198.97" y2="64.70" stroke="#2c2c2c" stroke-width="1.2" />
<line x1="198.97" y1="121.00" x2="198.97" y2="119.30" stroke="#2c2c2c" stroke-width="1.2" />
<line x1="209.13" y1="63.00" x2="209.13" y2="64.70" stroke="#2c2c2c" stroke-width="1.2" />
<line x1="209.13" y1="121.00" x2="209.13" y2="119.30" stroke="#2c2c2c" stroke-width="1.2" />
<line x1="219.30" y1="63.00" x2="219.30" y2="64.70" stroke="#2c2c2c" stroke-width="1.2" />
<line x1="219.30" y1="121.00" x2="219.30" y2="119.30" stroke="#2c2c2c" stroke-width="1.2" />
<line x1="229.47" y1="63.00" x2="229.47" y2="64.70" stroke="#2c2c2c" stroke-width="1.2" />
<line x1="229.47" y1="121.00" x2="229.47" y2="119.30" stroke="#2c2c2c" stroke-width="1.2" />
<line x1="239.63" y1="63.00" x2="239.63" y2="64.70" stroke="#2c2c2c" stroke-width="1.2" />
<line x1="239.63" y1="121.00" x2="239.63" y2="119.30" stroke="#2c2c2c" stroke-width="1.2" />
<line x1="249.80" y1="63.00" x2="249.80" y2="64.70" stroke="#2c2c2c" stroke-width="1.2" />
<line x1="249.80" y1="121.00" x2="249.80" y2="119.30" stroke="#2c2c2c" stroke-width="1.2" />
<line x1="259.97" y1="63.00" x2="259.97" y2="64.70" stroke="#2c2c2c" stroke-width="1.2" />
<line x1="259.97" y1="121.00" x2="259.97" y2="119.30" stroke="#2c2c2c" stroke-width="1.2" />
<line x1="270.13" y1="63.00" x2="270.13" y2="64.70" stroke="#2c2c2c" stroke-width="1.2" />
<line x1="270.13" y1="121.00" x2="270.13" y2="119.30" stroke="#2c2c2c" stroke-width="1.2" />
<line x1="280.30" y1="63.00" x2="280.30" y2="64.70" stroke="#2c2c2c" stroke-width="1.2" />
<line x1="280.30" y1="121.00" x2="280.30" y2="119.30" stroke="#2c2c2c" stroke-width="1.2" />
<line x1="290.47" y1="63.00" x2="290.47" y2="64.70" stroke="#2c2c2c" stroke-width="1.2" />
<line x1="290.47" y1="121.00" x2="290.47" y2="119.30" stroke="#2c2c2c" stroke-width="1.2" />
<line x1="300.63" y1="63.00" x2="300.63" y2="64.70" stroke="#2c2c2c" stroke-width="1.2" />
<line x1="300.63" y1="121.00" x2="300.63" y2="119.30" stroke="#2c2c2c" stroke-width="1.2" />
<line x1="76.97" y1="121.00" x2="76.97" y2="122.70" stroke="#2c2c2c" stroke-width="1.2" />
<line x1="76.97" y1="178.40" x2="76.97" y2="176.70" stroke="#2c2c2c" stroke-width="1.2" />
<line x1="87.13" y1="121.00" x2="87.13" y2="122.70" stroke="#2c2c2c" stroke-width="1.2" />
<line x1="87.13" y1="178.40" x2="87.13" y2="176.70" stroke="#2c2c2c" stroke-width="1.2" />
<line x1="97.30" y1="121.00" x2="97.30" y2="122.70" stroke="#2c2c2c" stroke-width="1.2" />
<line x1="97.30" y1="178.40" x2="97.30" y2="176.70" stroke="#2c2c2c" stroke-width="1.2" />
<line x1="107.47" y1="121.00" x2="107.47" y2="122.70" stroke="#2c2c2c" stroke-width="1.2" />
<line x1="107.47" y1="178.40" x2="107.47" y2="176.70" stroke="#2c2c2c" stroke-width="1.2" />
<line x1="117.63" y1="121.00" x2="117.63" y2="122.70" stroke="#2c2c2c" stroke-width="1.2" />
<line x1="117.63" y1="178.40" x2="117.63" y2="176.70" stroke="#2c2c2c" stroke-width="1.2" />
<line x1="127.80" y1="121.00" x2="127.80" y2="122.70" stroke="#2c2c2c" stroke-width="1.2" />
<line x1="127.80" y1="178.40" x2="127.80" y2="176.70" stroke="#2c2c2c" stroke-width="1.2" />
<line x1="137.97" y1="121.00" x2="137.97" y2="122.70" stroke="#2c2c2c" stroke-width="1.2" />
<line x1="137.97" y1="178.40" x2="137.97" y2="176.70" stroke="#2c2c2c" stroke-width="1.2" />
<line x1="148.13" y1="121.00" x2="148.13" y2="122.70" stroke="#2c2c2c" stroke-width="1.2" />
<line x1="148.13" y1="178.40" x2="148.13" y2="176.70" stroke="#2c2c2c" stroke-width="1.2" />
<line x1="158.30" y1="121.00" x2="158.30" y2="122.70" stroke="#2c2c2c" stroke-width="1.2" />
<line x1="158.30" y1="178.40" x2="158.30" y2="176.70" stroke="#2c2c2c" stroke-width="1.2" />
<line x1="168.47" y1="121.00" x2="168.47" y2="122.70" stroke="#2c2c2c" stroke-width="1.2" />
<line x1="168.47" y1="178.40" x2="168.47" y2="176.70" stroke="#2c2c2c" stroke-width="1.2" />
<line x1="178.63" y1="121.00" x2="178.63" y2="122.70" stroke="#2c2c2c" stroke-width="1.2" />
<line x1="178.63" y1="178.40" x2="178.63" y2="176.70" stroke="#2c2c2c" stroke-width="1.2" />
<line x1="188.80" y1="121.00" x2="188.80" y2="122.70" stroke="#2c2c2c" stroke-width="1.2" />
<line x1="188.80" y1="178.40" x2="188.80" y2="176.70" stroke="#2c2c2c" stroke-width="1.2" />
<line x1="198.97" y1="121.00" x2="198.97" y2="122.70" stroke="#2c2c2c" stroke-width="1.2" />
<line x1="198.97" y1="178.40" x2="198.97" y2="176.70" stroke="#2c2c2c" stroke-width="1.2" />
<line x1="209.13" y1="121.00" x2="209.13" y2="122.70" stroke="#2c2c2c" stroke-width="1.2" />
<line x1="209.13" y1="178.40" x2="209.13" y2="176.70" stroke="#2c2c2c" stroke-width="1.2" />
<line x1="219.30" y1="121.00" x2="219.30" y2="122.70" stroke="#2c2c2c" stroke-width="1.2" />
<line x1="219.30" y1="178.40" x2="219.30" y2="176.70" stroke="#2c2c2c" stroke-width="1.2" />
<line x1="229.47" y1="121.00" x2="229.47" y2="122.70" stroke="#2c2c2c" stroke-width="1.2" />
<line x1="229.47" y1="178.40" x2="229.47" y2="176.70" stroke="#2c2c2c" stroke-width="1.2" />
<line x1="239.63" y1="121.00" x2="239.63" y2="122.70" stroke="#2c2c2c" stroke-width="1.2" />
<line x1="239.63" y1="178.40" x2="239.63" y2="176.70" stroke="#2c2c2c" stroke-width="1.2" />
<line x1="249.80" y1="121.00" x2="249.80" y2="122.70" stroke="#2c2c2c" stroke-width="1.2" />
<line x1="249.80" y1="178.40" x2="249.80" y2="176.70" stroke="#2c2c2c" stroke-width="1.2" />
<line x1="259.97" y1="121.00" x2="259.97" y2="122.70" stroke="#2c2c2c" stroke-width="1.2" />
<line x1="259.97" y1="178.40" x2="259.97" y2="176.70" stroke="#2c2c2c" stroke-width="1.2" />
<line x1="270.13" y1="121.00" x2="270.13" y2="122.70" stroke="#2c2c2c" stroke-width="1.2" />
<line x1="270.13" y1="178.40" x2="270.13" y2="176.70" stroke="#2c2c2c" stroke-width="1.2" />
<line x1="280.30" y1="121.00" x2="280.30" y2="122.70" stroke="#2c2c2c" stroke-width="1.2" />
<line x1="280.30" y1="178.40" x2="280.30" y2="176.70" stroke="#2c2c2c" stroke-width="1.2" />
<line x1="290.47" y1="121.00" x2="290.47" y2="122.70" stroke="#2c2c2c" stroke-width="1.2" />
<line x1="290.47" y1="178.40" x2="290.47" y2="176.70" stroke="#2c2c2c" stroke-width="1.2" />
<line x1="300.63" y1="121.00" x2="300.63" y2="122.70" stroke="#2c2c2c" stroke-width="1.2" />
<line x1="300.63" y1="178.40" x2="300.63" y2="176.70" stroke="#2c2c2c" stroke-width="1.2" />
<line x1="76.97" y1="180.50" x2="76.97" y2="182.20" stroke="#2c2c2c" stroke-width="1.2" />
<line x1="76.97" y1="236.50" x2="76.97" y2="234.80" stroke="#2c2c2c" stroke-width="1.2" />
<line x1="87.13" y1="180.50" x2="87.13" y2="182.20" stroke="#2c2c2c" stroke-width="1.2" />
<line x1="87.13" y1="236.50" x2="87.13" y2="234.80" stroke="#2c2c2c" stroke-width="1.2" />
<line x1="97.30" y1="180.50" x2="97.30" y2="182.20" stroke="#2c2c2c" stroke-width="1.2" />
<line x1="97.30" y1="236.50" x2="97.30" y2="234.80" stroke="#2c2c2c" stroke-width="1.2" />
<line x1="107.47" y1="180.50" x2="107.47" y2="182.20" stroke="#2c2c2c" stroke-width="1.2" />
<line x1="107.47" y1="236.50" x2="107.47" y2="234.80" stroke="#2c2c2c" stroke-width="1.2" />
<line x1="117.63" y1="180.50" x2="117.63" y2="182.20" stroke="#2c2c2c" stroke-width="1.2" />
<line x1="117.63" y1="236.50" x2="117.63" y2="234.80" stroke="#2c2c2c" stroke-width="1.2" />
<line x1="127.80" y1="180.50" x2="127.80" y2="182.20" stroke="#2c2c2c" stroke-width="1.2" />
<line x1="127.80" y1="236.50" x2="127.80" y2="234.80" stroke="#2c2c2c" stroke-width="1.2" />
<line x1="137.97" y1="180.50" x2="137.97" y2="182.20" stroke="#2c2c2c" stroke-width="1.2" />
<line x1="137.97" y1="236.50" x2="137.97" y2="234.80" stroke="#2c2c2c" stroke-width="1.2" />
<line x1="148.13" y1="180.50" x2="148.13" y2="182.20" stroke="#2c2c2c" stroke-width="1.2" />
<line x1="148.13" y1="236.50" x2="148.13" y2="234.80" stroke="#2c2c2c" stroke-width="1.2" />
<line x1="158.30" y1="180.50" x2="158.30" y2="182.20" stroke="#2c2c2c" stroke-width="1.2" />
<line x1="158.30" y1="236.50" x2="158.30" y2="234.80" stroke="#2c2c2c" stroke-width="1.2" />
<line x1="168.47" y1="180.50" x2="168.47" y2="182.20" stroke="#2c2c2c" stroke-width="1.2" />
<line x1="168.47" y1="236.50" x2="168.47" y2="234.80" stroke="#2c2c2c" stroke-width="1.2" />
<line x1="178.63" y1="180.50" x2="178.63" y2="182.20" stroke="#2c2c2c" stroke-width="1.2" />
<line x1="178.63" y1="236.50" x2="178.63" y2="234.80" stroke="#2c2c2c" stroke-width="1.2" />
<line x1="188.80" y1="180.50" x2="188.80" y2="182.20" stroke="#2c2c2c" stroke-width="1.2" />
<line x1="188.80" y1="236.50" x2="188.80" y2="234.80" stroke="#2c2c2c" stroke-width="1.2" />
<line x1="198.97" y1="180.50" x2="198.97" y2="182.20" stroke="#2c2c2c" stroke-width="1.2" />
<line x1="198.97" y1="236.50" x2="198.97" y2="234.80" stroke="#2c2c2c" stroke-width="1.2" />
<line x1="209.13" y1="180.50" x2="209.13" y2="182.20" stroke="#2c2c2c" stroke-width="1.2" />
<line x1="209.13" y1="236.50" x2="209.13" y2="234.80" stroke="#2c2c2c" stroke-width="1.2" />
<line x1="219.30" y1="180.50" x2="219.30" y2="182.20" stroke="#2c2c2c" stroke-width="1.2" />
<line x1="219.30" y1="236.50" x2="219.30" y2="234.80" stroke="#2c2c2c" stroke-width="1.2" />
<line x1="229.47" y1="180.50" x2="229.47" y2="182.20" stroke="#2c2c2c" stroke-width="1.2" />
<line x1="229.47" y1="236.50" x2="229.47" y2="234.80" stroke="#2c2c2c" stroke-width="1.2" />
<line x1="239.63" y1="180.50" x2="239.63" y2="182.20" stroke="#2c2c2c" stroke-width="1.2" />
<line x1="239.63" y1="236.50" x2="239.63" y2="234.80" stroke="#2c2c2c" stroke-width="1.2" />
<line x1="249.80" y1="180.50" x2="249.80" y2="182.20" stroke="#2c2c2c" stroke-width="1.2" />
<line x1="249.80" y1="236.50" x2="249.80" y2="234.80" stroke="#2c2c2c" stroke-width="1.2" />
<line x1="259.97" y1="180.50" x2="259.97" y2="182.20" stroke="#2c2c2c" stroke-width="1.2" />
<line x1="259.97" y1="236.50" x2="259.97" y2="234.80" stroke="#2c2c2c" stroke-width="1.2" />
<line x1="270.13" y1="180.50" x2="270.13" y2="182.20" stroke="#2c2c2c" stroke-width="1.2" />
<line x1="270.13" y1="236.50" x2="270.13" y2="234.80" stroke="#2c2c2c" stroke-width="1.2" />
<line x1="280.30" y1="180.50" x2="280.30" y2="182.20" stroke="#2c2c2c" stroke-width="1.2" />
<line x1="280.30" y1="236.50" x2="280.30" y2="234.80" stroke="#2c2c2c" stroke-width="1.2" />
<line x1="290.47" y1="180.50" x2="290.47" y2="182.20" stroke="#2c2c2c" stroke-width="1.2" />
<line x1="290.47" y1="236.50" x2="290.47" y2="234.80" stroke="#2c2c2c" stroke-width="1.2" />
<line x1="300.63" y1="180.50" x2="300.63" y2="182.20" stroke="#2c2c2c" stroke-width="1.2" />
<line x1="300.63" y1="236.50" x2="300.63" y2="234.80" stroke="#2c2c2c" stroke-width="1.2" />
<line x1="76.97" y1="236.50" x2="76.97" y2="238.20" stroke="#2c2c2c" stroke-width="1.2" />
<line x1="76.97" y1="292.50" x2="76.97" y2="290.80" stroke="#2c2c2c" stroke-width="1.2" />
<line x1="87.13" y1="236.50" x2="87.13" y2="238.20" stroke="#2c2c2c" stroke-width="1.2" />
<line x1="87.13" y1="292.50" x2="87.13" y2="290.80" stroke="#2c2c2c" stroke-width="1.2" />
<line x1="97.30" y1="236.50" x2="97.30" y2="238.20" stroke="#2c2c2c" stroke-width="1.2" />
<line x1="97.30" y1="292.50" x2="97.30" y2="290.80" stroke="#2c2c2c" stroke-width="1.2" />
<line x1="107.47" y1="236.50" x2="107.47" y2="238.20" stroke="#2c2c2c" stroke-width="1.2" />
<line x1="107.47" y1="292.50" x2="107.47" y2="290.80" stroke="#2c2c2c" stroke-width="1.2" />
<line x1="117.63" y1="236.50" x2="117.63" y2="238.20" stroke="#2c2c2c" stroke-width="1.2" />
<line x1="117.63" y1="292.50" x2="117.63" y2="290.80" stroke="#2c2c2c" stroke-width="1.2" />
<line x1="127.80" y1="236.50" x2="127.80" y2="238.20" stroke="#2c2c2c" stroke-width="1.2" />
<line x1="127.80" y1="292.50" x2="127.80" y2="290.80" stroke="#2c2c2c" stroke-width="1.2" />
<line x1="137.97" y1="236.50" x2="137.97" y2="238.20" stroke="#2c2c2c" stroke-width="1.2" />
<line x1="137.97" y1="292.50" x2="137.97" y2="290.80" stroke="#2c2c2c" stroke-width="1.2" />
<line x1="148.13" y1="236.50" x2="148.13" y2="238.20" stroke="#2c2c2c" stroke-width="1.2" />
<line x1="148.13" y1="292.50" x2="148.13" y2="290.80" stroke="#2c2c2c" stroke-width="1.2" />
<line x1="158.30" y1="236.50" x2="158.30" y2="238.20" stroke="#2c2c2c" stroke-width="1.2" />
<line x1="158.30" y1="292.50" x2="158.30" y2="290.80" stroke="#2c2c2c" stroke-width="1.2" />
<line x1="168.47" y1="236.50" x2="168.47" y2="238.20" stroke="#2c2c2c" stroke-width="1.2" />
<line x1="168.47" y1="292.50" x2="168.47" y2="290.80" stroke="#2c2c2c" stroke-width="1.2" />
<line x1="178.63" y1="236.50" x2="178.63" y2="238.20" stroke="#2c2c2c" stroke-width="1.2" />
<line x1="178.63" y1="292.50" x2="178.63" y2="290.80" stroke="#2c2c2c" stroke-width="1.2" />
<line x1="188.80" y1="236.50" x2="188.80" y2="238.20" stroke="#2c2c2c" stroke-width="1.2" />
<line x1="188.80" y1="292.50" x2="188.80" y2="290.80" stroke="#2c2c2c" stroke-width="1.2" />
<line x1="198.97" y1="236.50" x2="198.97" y2="238.20" stroke="#2c2c2c" stroke-width="1.2" />
<line x1="198.97" y1="292.50" x2="198.97" y2="290.80" stroke="#2c2c2c" stroke-width="1.2" />
<line x1="209.13" y1="236.50" x2="209.13" y2="238.20" stroke="#2c2c2c" stroke-width="1.2" />
<line x1="209.13" y1="292.50" x2="209.13" y2="290.80" stroke="#2c2c2c" stroke-width="1.2" />
<line x1="219.30" y1="236.50" x2="219.30" y2="238.20" stroke="#2c2c2c" stroke-width="1.2" />
<line x1="219.30" y1="292.50" x2="219.30" y2="290.80" stroke="#2c2c2c" stroke-width="1.2" />
<line x1="229.47" y1="236.50" x2="229.47" y2="238.20" stroke="#2c2c2c" stroke-width="1.2" />
<line x1="229.47" y1="292.50" x2="229.47" y2="290.80" stroke="#2c2c2c" stroke-width="1.2" />
<line x1="239.63" y1="236.50" x2="239.63" y2="238.20" stroke="#2c2c2c" stroke-width="1.2" />
<line x1="239.63" y1="292.50" x2="239.63" y2="290.80" stroke="#2c2c2c" stroke-width="1.2" />
<line x1="249.80" y1="236.50" x2="249.80" y2="238.20" stroke="#2c2c2c" stroke-width="1.2" />
<line x1="249.80" y1="292.50" x2="249.80" y2="290.80" stroke="#2c2c2c" stroke-width="1.2" />
<line x1="259.97" y1="236.50" x2="259.97" y2="238.20" stroke="#2c2c2c" stroke-width="1.2" />
<line x1="259.97" y1="292.50" x2="259.97" y2="290.80" stroke="#2c2c2c" stroke-width="1.2" />
<line x1="270.13" y1="236.50" x2="270.13" y2="238.20" stroke="#2c2c2c" stroke-width="1.2" />
<line x1="270.13" y1="292.50" x2="270.13" y2="290.80" stroke="#2c2c2c" stroke-width="1.2" />
<line x1="280.30" y1="236.50" x2="280.30" y2="238.20" stroke="#2c2c2c" stroke-width="1.2" />
<line x1="280.30" y1="292.50" x2="280.30" y2="290.80" stroke="#2c2c2c" stroke-width="1.2" />
<line x1="290.47" y1="236.50" x2="290.47" y2="238.20" stroke="#2c2c2c" stroke-width="1.2" />
<line x1="290.47" y1="292.50" x2="290.47" y2="290.80" stroke="#2c2c2c" stroke-width="1.2" />
<line x1="300.63" y1="236.50" x2="300.63" y2="238.20" stroke="#2c2c2c" stroke-width="1.2" />
<line x1="300.63" y1="292.50" x2="300.63" y2="290.80" stroke="#2c2c2c" stroke-width="1.2" />
<line x1="76.97" y1="292.50" x2="76.97" y2="294.20" stroke="#2c2c2c" stroke-width="1.2" />
<line x1="76.97" y1="348.40" x2="76.97" y2="346.70" stroke="#2c2c2c" stroke-width="1.2" />
<line x1="87.13" y1="292.50" x2="87.13" y2="294.20" stroke="#2c2c2c" stroke-width="1.2" />
<line x1="87.13" y1="348.40" x2="87.13" y2="346.70" stroke="#2c2c2c" stroke-width="1.2" />
<line x1="97.30" y1="292.50" x2="97.30" y2="294.20" stroke="#2c2c2c" stroke-width="1.2" />
<line x1="97.30" y1="348.40" x2="97.30" y2="346.70" stroke="#2c2c2c" stroke-width="1.2" />
<line x1="107.47" y1="292.50" x2="107.47" y2="294.20" stroke="#2c2c2c" stroke-width="1.2" />
<line x1="107.47" y1="348.40" x2="107.47" y2="346.70" stroke="#2c2c2c" stroke-width="1.2" />
<line x1="117.63" y1="292.50" x2="117.63" y2="294.20" stroke="#2c2c2c" stroke-width="1.2" />
<line x1="117.63" y1="348.40" x2="117.63" y2="346.70" stroke="#2c2c2c" stroke-width="1.2" />
<line x1="127.80" y1="292.50" x2="127.80" y2="294.20" stroke="#2c2c2c" stroke-width="1.2" />
<line x1="127.80" y1="348.40" x2="127.80" y2="346.70" stroke="#2c2c2c" stroke-width="1.2" />
<line x1="137.97" y1="292.50" x2="137.97" y2="294.20" stroke="#2c2c2c" stroke-width="1.2" />
<line x1="137.97" y1="348.40" x2="137.97" y2="346.70" stroke="#2c2c2c" stroke-width="1.2" />
<line x1="148.13" y1="292.50" x2="148.13" y2="294.20" stroke="#2c2c2c" stroke-width="1.2" />
<line x1="148.13" y1="348.40" x2="148.13" y2="346.70" stroke="#2c2c2c" stroke-width="1.2" />
<line x1="158.30" y1="292.50" x2="158.30" y2="294.20" stroke="#2c2c2c" stroke-width="1.2" />
<line x1="158.30" y1="348.40" x2="158.30" y2="346.70" stroke="#2c2c2c" stroke-width="1.2" />
<line x1="168.47" y1="292.50" x2="168.47" y2="294.20" stroke="#2c2c2c" stroke-width="1.2" />
<line x1="168.47" y1="348.40" x2="168.47" y2="346.70" stroke="#2c2c2c" stroke-width="1.2" />
<line x1="178.63" y1="292.50" x2="178.63" y2="294.20" stroke="#2c2c2c" stroke-width="1.2" />
<line x1="178.63" y1="348.40" x2="178.63" y2="346.70" stroke="#2c2c2c" stroke-width="1.2" />
<line x1="188.80" y1="292.50" x2="188.80" y2="294.20" stroke="#2c2c2c" stroke-width="1.2" />
<line x1="188.80" y1="348.40" x2="188.80" y2="346.70" stroke="#2c2c2c" stroke-width="1.2" />
<line x1="198.97" y1="292.50" x2="198.97" y2="294.20" stroke="#2c2c2c" stroke-width="1.2" />
<line x1="198.97" y1="348.40" x2="198.97" y2="346.70" stroke="#2c2c2c" stroke-width="1.2" />
<line x1="209.13" y1="292.50" x2="209.13" y2="294.20" stroke="#2c2c2c" stroke-width="1.2" />
<line x1="209.13" y1="348.40" x2="209.13" y2="346.70" stroke="#2c2c2c" stroke-width="1.2" />
<line x1="219.30" y1="292.50" x2="219.30" y2="294.20" stroke="#2c2c2c" stroke-width="1.2" />
<line x1="219.30" y1="348.40" x2="219.30" y2="346.70" stroke="#2c2c2c" stroke-width="1.2" />
<line x1="229.47" y1="292.50" x2="229.47" y2="294.20" stroke="#2c2c2c" stroke-width="1.2" />
<line x1="229.47" y1="348.40" x2="229.47" y2="346.70" stroke="#2c2c2c" stroke-width="1.2" />
<line x1="239.63" y1="292.50" x2="239.63" y2="294.20" stroke="#2c2c2c" stroke-width="1.2" />
<line x1="239.63" y1="348.40" x2="239.63" y2="346.70" stroke="#2c2c2c" stroke-width="1.2" />
<line x1="249.80" y1="292.50" x2="249.80" y2="294.20" stroke="#2c2c2c" stroke-width="1.2" />
<line x1="249.80" y1="348.40" x2="249.80" y2="346.70" stroke="#2c2c2c" stroke-width="1.2" />
<line x1="259.97" y1="292.50" x2="259.97" y2="294.20" stroke="#2c2c2c" stroke-width="1.2" />
<line x1="259.97" y1="348.40" x2="259.97" y2="346.70" stroke="#2c2c2c" stroke-width="1.2" />
<line x1="270.13" y1="292.50" x2="270.13" y2="294.20" stroke="#2c2c2c" stroke-width="1.2" />
<line x1="270.13" y1="348.40" x2="270.13" y2="346.70" stroke="#2c2c2c" stroke-width="1.2" />
<line x1="280.30" y1="292.50" x2="280.30" y2="294.20" stroke="#2c2c2c" stroke-width="1.2" />
<line x1="280.30" y1="348.40" x2="280.30" y2="346.70" stroke="#2c2c2c" stroke-width="1.2" />
<line x1="290.47" y1="292.50" x2="290.47" y2="294.20" stroke="#2c2c2c" stroke-width="1.2" />
<line x1="290.47" y1="348.40" x2="290.47" y2="346.70" stroke="#2c2c2c" stroke-width="1.2" />
<line x1="300.63" y1="292.50" x2="300.63" y2="294.20" stroke="#2c2c2c" stroke-width="1.2" />
<line x1="300.63" y1="348.40" x2="300.63" y2="346.70" stroke="#2c2c2c" stroke-width="1.2" />
<line x1="66.80" y1="236.19" x2="69.00" y2="236.19" stroke="#2c2c2c" stroke-width="0.8" />
<line x1="310.80" y1="236.19" x2="308.60" y2="236.19" stroke="#2c2c2c" stroke-width="0.8" />
<line x1="66.80" y1="233.90" x2="71.30" y2="233.90" stroke="#2c2c2c" stroke-width="0.8" />
<line x1="310.80" y1="233.90" x2="306.30" y2="233.90" stroke="#2c2c2c" stroke-width="0.8" />
<line x1="66.80" y1="218.85" x2="69.00" y2="218.85" stroke="#2c2c2c" stroke-width="0.8" />
<line x1="310.80" y1="218.85" x2="308.60" y2="218.85" stroke="#2c2c2c" stroke-width="0.8" />
<line x1="66.80" y1="210.04" x2="69.00" y2="210.04" stroke="#2c2c2c" stroke-width="0.8" />
<line x1="310.80" y1="210.04" x2="308.60" y2="210.04" stroke="#2c2c2c" stroke-width="0.8" />
<line x1="66.80" y1="203.80" x2="69.00" y2="203.80" stroke="#2c2c2c" stroke-width="0.8" />
<line x1="310.80" y1="203.80" x2="308.60" y2="203.80" stroke="#2c2c2c" stroke-width="0.8" />
<line x1="66.80" y1="198.95" x2="69.00" y2="198.95" stroke="#2c2c2c" stroke-width="0.8" />
<line x1="310.80" y1="198.95" x2="308.60" y2="198.95" stroke="#2c2c2c" stroke-width="0.8" />
<line x1="66.80" y1="194.99" x2="69.00" y2="194.99" stroke="#2c2c2c" stroke-width="0.8" />
<line x1="310.80" y1="194.99" x2="308.60" y2="194.99" stroke="#2c2c2c" stroke-width="0.8" />
<line x1="66.80" y1="191.65" x2="69.00" y2="191.65" stroke="#2c2c2c" stroke-width="0.8" />
<line x1="310.80" y1="191.65" x2="308.60" y2="191.65" stroke="#2c2c2c" stroke-width="0.8" />
<line x1="66.80" y1="188.75" x2="69.00" y2="188.75" stroke="#2c2c2c" stroke-width="0.8" />
<line x1="310.80" y1="188.75" x2="308.60" y2="188.75" stroke="#2c2c2c" stroke-width="0.8" />
<line x1="66.80" y1="186.19" x2="69.00" y2="186.19" stroke="#2c2c2c" stroke-width="0.8" />
<line x1="310.80" y1="186.19" x2="308.60" y2="186.19" stroke="#2c2c2c" stroke-width="0.8" />
<line x1="66.80" y1="183.90" x2="71.30" y2="183.90" stroke="#2c2c2c" stroke-width="0.8" />
<line x1="310.80" y1="183.90" x2="306.30" y2="183.90" stroke="#2c2c2c" stroke-width="0.8" />
<line x1="66.80" y1="291.99" x2="69.00" y2="291.99" stroke="#2c2c2c" stroke-width="0.8" />
<line x1="310.80" y1="291.99" x2="308.60" y2="291.99" stroke="#2c2c2c" stroke-width="0.8" />
<line x1="66.80" y1="289.70" x2="71.30" y2="289.70" stroke="#2c2c2c" stroke-width="0.8" />
<line x1="310.80" y1="289.70" x2="306.30" y2="289.70" stroke="#2c2c2c" stroke-width="0.8" />
<line x1="66.80" y1="274.65" x2="69.00" y2="274.65" stroke="#2c2c2c" stroke-width="0.8" />
<line x1="310.80" y1="274.65" x2="308.60" y2="274.65" stroke="#2c2c2c" stroke-width="0.8" />
<line x1="66.80" y1="265.84" x2="69.00" y2="265.84" stroke="#2c2c2c" stroke-width="0.8" />
<line x1="310.80" y1="265.84" x2="308.60" y2="265.84" stroke="#2c2c2c" stroke-width="0.8" />
<line x1="66.80" y1="259.60" x2="69.00" y2="259.60" stroke="#2c2c2c" stroke-width="0.8" />
<line x1="310.80" y1="259.60" x2="308.60" y2="259.60" stroke="#2c2c2c" stroke-width="0.8" />
<line x1="66.80" y1="254.75" x2="69.00" y2="254.75" stroke="#2c2c2c" stroke-width="0.8" />
<line x1="310.80" y1="254.75" x2="308.60" y2="254.75" stroke="#2c2c2c" stroke-width="0.8" />
<line x1="66.80" y1="250.79" x2="69.00" y2="250.79" stroke="#2c2c2c" stroke-width="0.8" />
<line x1="310.80" y1="250.79" x2="308.60" y2="250.79" stroke="#2c2c2c" stroke-width="0.8" />
<line x1="66.80" y1="247.45" x2="69.00" y2="247.45" stroke="#2c2c2c" stroke-width="0.8" />
<line x1="310.80" y1="247.45" x2="308.60" y2="247.45" stroke="#2c2c2c" stroke-width="0.8" />
<line x1="66.80" y1="244.55" x2="69.00" y2="244.55" stroke="#2c2c2c" stroke-width="0.8" />
<line x1="310.80" y1="244.55" x2="308.60" y2="244.55" stroke="#2c2c2c" stroke-width="0.8" />
<line x1="66.80" y1="241.99" x2="69.00" y2="241.99" stroke="#2c2c2c" stroke-width="0.8" />
<line x1="310.80" y1="241.99" x2="308.60" y2="241.99" stroke="#2c2c2c" stroke-width="0.8" />
<line x1="66.80" y1="239.70" x2="71.30" y2="239.70" stroke="#2c2c2c" stroke-width="0.8" />
<line x1="310.80" y1="239.70" x2="306.30" y2="239.70" stroke="#2c2c2c" stroke-width="0.8" />
<line x1="66.80" y1="347.60" x2="71.30" y2="347.60" stroke="#2c2c2c" stroke-width="0.8" />
<line x1="310.80" y1="347.60" x2="306.30" y2="347.60" stroke="#2c2c2c" stroke-width="0.8" />
<line x1="66.80" y1="331.98" x2="69.00" y2="331.98" stroke="#2c2c2c" stroke-width="0.8" />
<line x1="310.80" y1="331.98" x2="308.60" y2="331.98" stroke="#2c2c2c" stroke-width="0.8" />
<line x1="66.80" y1="322.84" x2="69.00" y2="322.84" stroke="#2c2c2c" stroke-width="0.8" />
<line x1="310.80" y1="322.84" x2="308.60" y2="322.84" stroke="#2c2c2c" stroke-width="0.8" />
<line x1="66.80" y1="316.35" x2="69.00" y2="316.35" stroke="#2c2c2c" stroke-width="0.8" />
<line x1="310.80" y1="316.35" x2="308.60" y2="316.35" stroke="#2c2c2c" stroke-width="0.8" />
<line x1="66.80" y1="311.32" x2="69.00" y2="311.32" stroke="#2c2c2c" stroke-width="0.8" />
<line x1="310.80" y1="311.32" x2="308.60" y2="311.32" stroke="#2c2c2c" stroke-width="0.8" />
<line x1="66.80" y1="307.21" x2="69.00" y2="307.21" stroke="#2c2c2c" stroke-width="0.8" />
<line x1="310.80" y1="307.21" x2="308.60" y2="307.21" stroke="#2c2c2c" stroke-width="0.8" />
<line x1="66.80" y1="303.74" x2="69.00" y2="303.74" stroke="#2c2c2c" stroke-width="0.8" />
<line x1="310.80" y1="303.74" x2="308.60" y2="303.74" stroke="#2c2c2c" stroke-width="0.8" />
<line x1="66.80" y1="300.73" x2="69.00" y2="300.73" stroke="#2c2c2c" stroke-width="0.8" />
<line x1="310.80" y1="300.73" x2="308.60" y2="300.73" stroke="#2c2c2c" stroke-width="0.8" />
<line x1="66.80" y1="298.07" x2="69.00" y2="298.07" stroke="#2c2c2c" stroke-width="0.8" />
<line x1="310.80" y1="298.07" x2="308.60" y2="298.07" stroke="#2c2c2c" stroke-width="0.8" />
<line x1="66.80" y1="295.70" x2="71.30" y2="295.70" stroke="#2c2c2c" stroke-width="0.8" />
<line x1="310.80" y1="295.70" x2="306.30" y2="295.70" stroke="#2c2c2c" stroke-width="0.8" />
<polyline points="66.0,232.9 67.3,228.3 69.1,224.9 70.7,226.0 71.9,229.4 73.0,232.9 74.1,231.0 75.3,230.1 76.4,231.0 77.6,231.7 78.7,232.9 79.9,234.7 81.0,230.6 82.1,226.0 83.3,234.0 84.4,229.4 85.6,231.7 86.7,232.9 87.9,230.6 89.0,230.6 90.1,228.3 91.3,229.4 92.4,227.8 93.6,227.1 94.7,226.5 95.9,229.4 97.0,227.8 98.1,229.4 99.3,227.1 100.4,228.3 101.6,226.0 102.7,224.9 103.9,224.2 105.0,226.0 106.1,232.9 107.3,231.7 108.4,232.9 109.6,230.6 110.7,234.0 111.9,231.7 113.0,232.9 114.1,230.6 115.3,232.9 116.4,231.0 117.6,231.7 118.7,228.3 119.9,229.4 121.0,222.6 122.1,223.7 123.3,224.9 124.4,226.0 125.6,227.1 126.7,231.7 127.9,226.0 129.0,228.3 130.1,226.0 131.3,226.0 132.4,224.9 133.6,229.4 134.7,232.9 135.9,230.6 137.0,229.4 138.1,227.1 139.3,226.0 140.0,227.0 141.1,223.7 142.3,221.4 143.4,223.7 144.6,220.3 145.7,222.6 146.9,219.1 148.0,221.4 149.1,220.3 150.3,219.1 151.4,220.3 152.6,226.0 153.7,219.1 154.9,218.0 156.0,221.4 157.1,218.0 158.3,219.1 159.4,220.3 160.6,216.9 161.7,218.0 162.9,215.7 164.0,216.9 165.1,220.3 166.3,223.7 167.4,220.3 168.6,215.7 169.7,218.0 170.9,219.1 172.0,216.9 173.1,218.0 174.3,221.4 175.4,227.1 176.6,218.0 177.7,219.1 178.9,216.9 180.0,218.0 181.1,216.9 182.3,215.7 183.4,216.9 184.6,215.7 185.7,214.6 186.9,215.7 188.0,215.7 189.1,220.3 190.3,214.6 191.4,216.9 192.6,215.7 193.7,219.1 194.9,214.6 196.0,215.7 197.1,216.9 198.3,213.4 199.4,212.3 200.6,214.6 201.7,213.4 202.9,216.9 204.0,214.6 205.1,215.7 206.3,216.9 207.4,215.7 208.6,220.3 209.7,215.7 210.9,216.9 212.0,218.0 213.1,216.9 214.3,218.0 215.0,218.0 216.4,216.6 217.9,218.0 219.3,219.4 220.7,218.0 222.1,216.6 223.6,219.4 225.0,218.0 226.4,220.9 227.9,219.4 229.3,223.7 230.7,220.9 232.1,220.9 233.6,222.3 235.0,220.9 236.4,222.3 237.9,218.0 239.3,216.0 240.7,216.6 242.1,219.4 243.6,220.9 245.0,218.0 246.4,219.4 247.9,222.3 249.3,223.7 250.7,225.1 252.1,226.6 253.6,225.1 255.0,222.3 256.4,225.1 257.9,223.7 259.3,222.3 260.7,225.1 262.1,226.6 263.6,223.7 265.0,222.3 266.4,223.7 267.9,229.4 269.3,230.9 270.7,228.0 272.1,229.4 273.6,226.6 275.0,222.3 276.4,225.1 277.9,228.0 279.3,228.0 280.7,226.6 282.1,228.0 283.6,229.4 285.0,228.0 286.4,226.6 287.9,225.1 289.3,228.0 290.7,228.9 292.1,229.4 293.6,228.0 295.0,228.9 296.4,226.6 297.9,228.0 299.3,225.1 300.7,229.4 302.1,226.6 303.6,225.1 305.0,225.1 306.4,225.1 307.9,228.0 309.3,229.4" fill="none" stroke="#333" stroke-width="1.0" stroke-linejoin="round" />
<polyline points="66.0,256.7 67.3,259.0 68.4,254.4 69.6,252.1 70.7,253.3 71.9,255.6 73.0,257.9 74.1,261.3 75.3,264.7 76.4,262.4 77.6,256.7 78.7,249.9 79.9,260.1 81.0,263.6 82.1,255.6 83.3,259.0 84.4,256.7 85.6,257.9 86.7,260.1 87.9,263.6 89.0,249.9 90.1,256.7 91.3,264.7 92.4,269.3 94.7,268.1 97.0,267.0 98.1,263.6 99.3,257.9 100.4,254.4 101.6,255.6 102.7,257.9 103.9,263.6 105.0,271.6 106.1,262.4 107.3,257.9 108.4,269.3 109.6,275.0 110.7,262.4 111.9,251.0 113.0,264.7 114.1,273.9 115.3,268.1 116.4,263.6 117.6,262.4 118.7,263.6 119.9,261.3 121.0,264.7 122.1,260.1 123.3,265.9 124.4,270.4 125.6,262.4 126.7,261.3 127.9,262.4 129.0,260.1 130.1,257.9 131.3,259.0 132.4,261.3 133.6,262.4 134.7,263.6 135.9,261.3 137.0,260.1 138.1,265.9 139.3,271.6 140.0,269.3 141.1,264.7 142.3,260.1 143.4,257.9 144.6,256.7 145.7,254.4 146.9,252.1 148.0,252.1 149.1,252.1 150.3,255.6 151.4,257.9 152.6,256.7 153.7,253.3 154.9,248.7 156.0,246.9 157.1,246.4 158.3,247.6 159.4,248.7 160.6,249.9 161.7,251.0 162.9,253.3 164.0,251.0 165.1,248.7 166.3,251.0 167.4,253.3 168.6,248.7 169.7,246.4 170.9,247.6 172.0,246.0 173.1,245.3 174.3,251.0 175.4,256.7 176.6,248.7 177.7,244.1 178.9,241.9 180.0,243.0 181.1,245.3 182.3,247.6 183.4,244.1 184.6,241.9 185.7,239.6 186.9,244.1 188.0,247.6 189.1,251.0 190.3,247.6 191.4,249.9 192.6,251.0 193.7,252.1 194.9,252.1 196.0,251.0 197.1,252.1 198.3,244.1 199.4,243.0 200.6,245.3 201.7,241.9 202.9,244.1 204.0,246.4 205.1,251.0 206.3,253.3 207.4,256.7 208.6,253.3 209.7,248.7 210.9,246.4 212.0,245.3 213.1,246.4 214.3,247.6 215.0,247.9 216.4,247.9 217.9,250.7 219.3,249.3 220.7,249.3 222.1,247.9 223.6,246.4 225.0,249.3 226.4,250.7 227.9,249.3 229.3,250.7 230.7,259.3 232.1,256.4 233.6,256.4 235.0,255.0 236.4,253.6 237.9,256.4 239.3,252.1 240.7,255.0 242.1,245.0 243.6,250.7 245.0,255.0 246.4,253.6 247.9,249.3 249.3,255.0 250.7,257.9 252.1,256.4 253.6,257.9 255.0,260.7 256.4,263.6 257.9,266.4 259.3,262.1 260.7,257.9 262.1,250.7 263.6,256.4 265.0,259.3 266.4,266.4 267.9,262.1 269.3,255.0 270.7,266.4 272.1,255.0 273.6,253.6 275.0,256.4 276.4,257.9 277.9,259.3 279.3,262.1 280.7,265.0 282.1,260.7 283.6,257.9 285.0,259.3 286.4,260.7 287.9,262.1 289.3,260.7 290.7,265.0 291.6,275.0 292.7,267.9 293.6,266.4 295.0,265.0 296.4,263.6 297.9,256.4 299.3,260.7 300.7,255.0 302.1,252.1 303.6,259.3 305.0,266.4 306.4,265.0 307.9,257.9 309.3,255.0" fill="none" stroke="#333" stroke-width="1.0" stroke-linejoin="round" />
<polyline points="66.4,340.0 67.9,340.8 69.3,338.7 70.7,338.7 72.1,339.5 73.6,340.9 75.0,339.3 76.4,339.5 77.9,340.9 79.3,339.5 80.7,339.1 82.1,340.4 83.6,339.9 85.0,340.9 86.4,341.7 87.9,339.6 89.3,340.7 90.7,342.1 92.1,343.4 93.6,344.3 95.0,342.8 96.4,342.0 97.9,340.4 99.3,340.7 100.7,340.7 102.1,341.0 103.6,341.9 105.0,342.8 106.4,341.2 107.3,338.7 107.9,342.9 109.3,343.8 110.7,343.0 112.1,343.4 113.6,342.4 115.0,341.8 116.4,342.0 117.9,341.5 119.3,342.3 120.7,342.8 122.1,341.4 123.6,340.3 125.0,340.7 126.4,343.2 127.9,341.6 129.3,342.1 130.7,340.9 132.1,342.0 133.6,341.8 135.0,342.5 136.4,342.7 137.9,342.0 139.3,341.9 140.7,343.1 142.1,341.6 143.6,340.0 145.0,341.4 146.4,339.5 147.9,339.2 149.3,341.1 150.7,339.4 152.1,340.4 153.6,339.0 155.0,339.5 156.4,338.6 157.9,338.0 159.3,337.1 160.0,337.4 161.4,336.2 162.9,336.6 164.3,335.2 165.7,335.8 167.1,335.9 168.6,337.2 170.0,336.3 171.4,336.9 172.9,338.4 174.3,342.2 175.7,337.2 177.1,334.5 178.6,334.3 180.0,334.6 181.4,333.9 182.9,334.1 184.3,334.2 185.7,333.9 187.1,334.7 188.6,334.2 190.0,336.1 191.4,334.6 192.9,335.7 194.3,336.6 195.7,336.1 197.1,337.4 198.6,336.7 200.0,335.5 201.4,336.6 202.9,335.0 204.3,337.0 205.7,337.6 207.1,335.9 208.6,337.7 210.0,336.9 211.4,338.4 212.9,339.1 214.3,338.0 215.7,338.9 217.1,339.4 218.6,338.6 220.0,339.3 221.4,340.0 222.9,339.6 224.3,340.1 225.7,340.9 227.1,340.1 228.6,341.5 230.0,340.4 231.4,342.4 232.9,340.6 234.3,342.4 235.7,341.2 237.1,341.3 238.6,342.2 240.0,341.0 241.4,341.0 242.9,342.4 244.3,341.5 245.7,342.0 247.1,341.1 248.6,342.2 250.0,342.6 251.4,340.8 252.9,342.0 254.3,342.5 255.0,341.4 256.7,342.6 258.4,344.4 260.1,343.3 261.9,343.6 263.6,343.0 264.4,344.8 265.3,343.9 267.0,344.1 268.7,345.2 269.6,344.6 270.4,344.9 271.3,343.2 272.2,342.3 273.0,343.1 273.9,343.9 275.6,343.0 277.3,344.3 279.0,343.2 280.7,343.9 282.4,345.4 284.2,345.2 285.9,345.3 287.6,344.9 289.3,343.9 291.0,345.4 291.9,347.2 292.7,345.6 294.5,344.6 296.2,344.0 297.9,344.4 299.6,343.7 301.3,345.1 303.0,344.0 304.7,344.8 306.5,343.9 308.2,344.3 309.5,344.3" fill="none" stroke="#333" stroke-width="1.0" stroke-linejoin="round" />
<rect x="66.80" y="5.50" width="244.00" height="57.50" fill="none" stroke="#2c2c2c" stroke-width="0.9"/>
<rect x="66.80" y="63.00" width="244.00" height="58.00" fill="none" stroke="#2c2c2c" stroke-width="0.9"/>
<rect x="66.80" y="121.00" width="244.00" height="57.40" fill="none" stroke="#2c2c2c" stroke-width="0.9"/>
<rect x="66.80" y="180.50" width="244.00" height="56.00" fill="none" stroke="#2c2c2c" stroke-width="0.9"/>
<rect x="66.80" y="236.50" width="244.00" height="56.00" fill="none" stroke="#2c2c2c" stroke-width="0.9"/>
<rect x="66.80" y="292.50" width="244.00" height="55.90" fill="none" stroke="#2c2c2c" stroke-width="0.9"/>
<rect x="137.97" y="5.0" width="21.23" height="173.4" fill="#b8e0e2" opacity="0.55"/>
<rect x="168.0" y="5.0" width="21.20" height="173.4" fill="#b67aee" opacity="0.4"/>
<rect x="189.2" y="5.0" width="22.20" height="173.4" fill="#436bf8" opacity="0.4"/>
<line x1="189.20" y1="2.00" x2="189.20" y2="178.40" stroke="#9a7ab8" stroke-width="0.8" />
<line x1="212.10" y1="1.50" x2="212.10" y2="178.30" stroke="#888" stroke-width="1.0" />
<line x1="239.60" y1="1.50" x2="239.60" y2="178.30" stroke="#555" stroke-width="1.0" />
<polygon points="132.2,302 148.4,296.4 148.4,298.9 166.2,298.9 166.2,305.1 148.4,305.1 148.4,307.7" fill="#fff" stroke="#333" stroke-width="0.9" stroke-linejoin="round"/>
<polygon points="224.1,298.9 241.7,298.9 241.7,296.3 258.9,302 241.7,307.7 241.7,305.1 224.1,305.1" fill="#fff" stroke="#333" stroke-width="0.9" stroke-linejoin="round"/>
<text x="62.0" y="10.0" font-size="10.1" text-anchor="end" stroke="#1a1a1a" stroke-width="0.12">15</text>
<text x="62.0" y="21.7" font-size="10.1" text-anchor="end" stroke="#1a1a1a" stroke-width="0.12">10</text>
<text x="62.0" y="32.5" font-size="10.1" text-anchor="end" stroke="#1a1a1a" stroke-width="0.12">5</text>
<text x="62.0" y="44.1" font-size="10.1" text-anchor="end" stroke="#1a1a1a" stroke-width="0.12">0</text>
<text x="62.0" y="55.6" font-size="10.1" text-anchor="end" stroke="#1a1a1a" stroke-width="0.12">-5</text>
<text x="62.0" y="68.4" font-size="10.1" text-anchor="end" stroke="#1a1a1a" stroke-width="0.12">-10</text>
<text x="62.0" y="79.3" font-size="10.1" text-anchor="end" stroke="#1a1a1a" stroke-width="0.12">10</text>
<text x="62.0" y="95.6" font-size="10.1" text-anchor="end" stroke="#1a1a1a" stroke-width="0.12">0</text>
<text x="62.0" y="114.2" font-size="10.1" text-anchor="end" stroke="#1a1a1a" stroke-width="0.12">-10</text>
<text x="62.0" y="136.9" font-size="10.1" text-anchor="end" stroke="#1a1a1a" stroke-width="0.12">10</text>
<text x="62.0" y="153.6" font-size="10.1" text-anchor="end" stroke="#1a1a1a" stroke-width="0.12">0</text>
<text x="62.0" y="171.9" font-size="10.1" text-anchor="end" stroke="#1a1a1a" stroke-width="0.12">-10</text>
<text x="64.0" y="189.0" font-size="10" text-anchor="end" stroke="#1a1a1a" stroke-width="0.5">10</text>
<text x="63.0" y="235.0" font-size="10" text-anchor="end" stroke="#1a1a1a" stroke-width="0.5">1</text>
<text x="62.8" y="245.8" font-size="10" text-anchor="end" stroke="#1a1a1a" stroke-width="0.5">1.0</text>
<text x="63.8" y="291.6" font-size="10" text-anchor="end" stroke="#1a1a1a" stroke-width="0.5">0.1</text>
<text x="64.6" y="300.4" font-size="9.5" text-anchor="end" stroke="#1a1a1a" stroke-width="0.5">10000</text>
<text x="62.6" y="350.6" font-size="10" text-anchor="end" stroke="#1a1a1a" stroke-width="0.5">1000</text>
<text x="67.2" y="362.9" font-size="10" text-anchor="middle" stroke="#1a1a1a" stroke-width="0.5">00:00</text>
<text x="107.9" y="362.9" font-size="10" text-anchor="middle" stroke="#1a1a1a" stroke-width="0.5">02:00</text>
<text x="148.5" y="362.9" font-size="10" text-anchor="middle" stroke="#1a1a1a" stroke-width="0.5">04:00</text>
<text x="189.2" y="362.9" font-size="10" text-anchor="middle" stroke="#1a1a1a" stroke-width="0.5">06:00</text>
<text x="229.9" y="362.9" font-size="10" text-anchor="middle" stroke="#1a1a1a" stroke-width="0.5">08:00</text>
<text x="270.5" y="362.9" font-size="10" text-anchor="middle" stroke="#1a1a1a" stroke-width="0.5">10:00</text>
<text x="136.6" y="373.7" font-size="10" text-anchor="start" textLength="118.5" lengthAdjust="spacingAndGlyphs" stroke="#1a1a1a" stroke-width="0.5">hh:mm 07 September 1999</text>
<text x="2.3" y="12.3" font-size="13">(a)</text>
<text x="0.6" y="186.3" font-size="13">(b)</text>
<text transform="translate(47.5,30.0) rotate(-90)" font-size="10.4" text-anchor="middle">Bx, nT</text>
<text transform="translate(47.5,88.5) rotate(-90)" font-size="10.4" text-anchor="middle">By , nT</text>
<text transform="translate(47.5,150.8) rotate(-90)" font-size="10.4" text-anchor="middle">Bz, nT</text>
<text transform="translate(32.0,343.8) rotate(-90)" font-size="13.25" text-anchor="start">intensity, (cm</text>
<text transform="translate(29.3,266.1) rotate(-90)" font-size="10" text-anchor="start">2</text>
<text transform="translate(32.0,254.6) rotate(-90)" font-size="13" text-anchor="start">s</text>
<text transform="translate(32.0,244.2) rotate(-90)" font-size="13" text-anchor="start">sr</text>
<text transform="translate(32.0,228.9) rotate(-90)" font-size="13" text-anchor="start">MeV)</text>
<text transform="translate(26.8,196.3) rotate(-90)" font-size="10" text-anchor="start">-1</text>
<text transform="translate(343.1,204.5) rotate(90)" font-size="8" text-anchor="middle" stroke="#111" stroke-width="0.15">LEFS60,</text>
<text transform="translate(334.9,204.5) rotate(90)" font-size="8" text-anchor="middle" stroke="#111" stroke-width="0.15">0.761-1.22 MeV</text>
<text transform="translate(326.7,204.5) rotate(90)" font-size="8" text-anchor="middle" stroke="#111" stroke-width="0.15">ions,</text>
<text transform="translate(318.5,206.0) rotate(90)" font-size="8" text-anchor="middle" stroke="#111" stroke-width="0.15">sector avg.</text>
<text transform="translate(343.1,261.5) rotate(90)" font-size="8" text-anchor="middle" stroke="#111" stroke-width="0.15">LEMS30,</text>
<text transform="translate(334.9,261.0) rotate(90)" font-size="8" text-anchor="middle" stroke="#111" stroke-width="0.15">1.06-1.91 MeV</text>
<text transform="translate(326.7,264.0) rotate(90)" font-size="8" text-anchor="middle" stroke="#111" stroke-width="0.15">ions,</text>
<text transform="translate(318.5,267.4) rotate(90)" font-size="8" text-anchor="middle" stroke="#111" stroke-width="0.15">sector avg.</text>
<text transform="translate(333.6,327.3) rotate(90)" font-size="8" text-anchor="middle" stroke="#111" stroke-width="0.15">Deflected Electrons,</text>
<text transform="translate(325.4,328.7) rotate(90)" font-size="8" text-anchor="middle" stroke="#111" stroke-width="0.15">0.038-0.053 MeV,</text>
<text transform="translate(317.2,332.6) rotate(90)" font-size="8" text-anchor="middle" stroke="#111" stroke-width="0.15">sector avg.</text>
</svg>
</body></html>
